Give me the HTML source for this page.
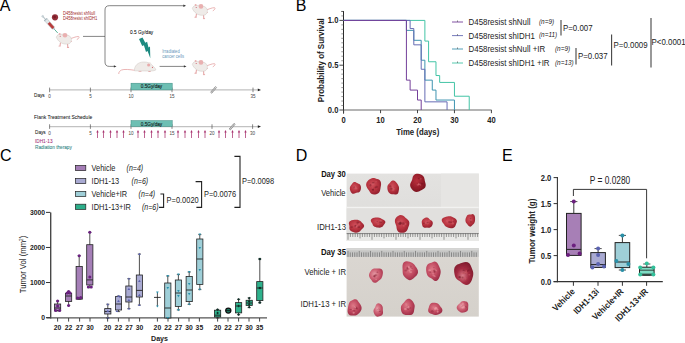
<!DOCTYPE html>
<html><head><meta charset="utf-8"><style>
html,body{margin:0;padding:0;background:#fff;}
body{width:685px;height:343px;overflow:hidden;}
svg{display:block;font-family:"Liberation Sans",sans-serif;}
</style></head><body>
<svg width="685" height="343" viewBox="0 0 685 343">
<rect width="685" height="343" fill="#fff"/>
<text transform="translate(-0.20,10.80)" font-size="16.00" text-anchor="start" fill="#000" >A</text>
<text transform="translate(295.80,11.00)" font-size="16.00" text-anchor="start" fill="#000" >B</text>
<text transform="translate(0.10,160.60)" font-size="16.00" text-anchor="start" fill="#000" >C</text>
<text transform="translate(295.80,160.90)" font-size="16.00" text-anchor="start" fill="#000" >D</text>
<text transform="translate(501.90,160.90)" font-size="16.00" text-anchor="start" fill="#000" >E</text>
<g transform="translate(42,15.5) rotate(48)"><rect x="0" y="-1.2" width="2" height="2.4" fill="#c9d3d8"/><rect x="1.5" y="-0.5" width="4" height="1" fill="#b7c3c8"/><rect x="5" y="-2" width="1" height="4" fill="#9fb0b8"/><rect x="6" y="-1.6" width="11" height="3.2" fill="#dfe6e8" stroke="#9aa8ae" stroke-width="0.4"/><rect x="10" y="-1.4" width="7" height="2.8" fill="#b83a3a"/><rect x="17" y="-0.6" width="2" height="1.2" fill="#9aa8ae"/><line x1="19" y1="0" x2="23.5" y2="0" stroke="#2a9a7a" stroke-width="0.7"/></g>
<circle cx="55.00" cy="17.30" r="3.10" fill="#93303a" stroke="none" stroke-width="1" />
<circle cx="54.60" cy="17.00" r="1.40" fill="#7a1a25" stroke="none" stroke-width="1" />
<text transform="translate(63.00,15.10) scale(0.8333,1)" font-size="4.92" text-anchor="start" fill="#a02a2a" >D458resist shNull</text>
<text transform="translate(63.00,19.90) scale(0.8333,1)" font-size="4.92" text-anchor="start" fill="#a02a2a" >D458resist shIDH1</text>
<g transform="translate(56,32) scale(1.0)"><path d="M15 6.5 C18 5.5 20 4.5 22.5 4.5 C23.6 4.7 23 6.6 20.8 7.6" stroke="#e6a8a8" stroke-width="0.85" fill="none"/><path d="M4.5 10.5 L4 13.8 M11.5 11.5 L11.8 15.3" stroke="#e6a8a8" stroke-width="1.1"/><ellipse cx="3.6" cy="14" rx="1.2" ry="0.6" fill="#e6a8a8"/><ellipse cx="12" cy="15.4" rx="1.2" ry="0.6" fill="#e6a8a8"/><ellipse cx="15" cy="9.3" rx="0.9" ry="0.6" fill="#e6a8a8"/><path d="M0.3 5.2 C1 3 3 1.8 5.5 2.2 C8 1.8 13 2.5 15 5.5 C16 8 15 11 13 11.8 C10 12.5 6 12 4 10 C2.5 9 1 7 0.3 5.2 Z" fill="#efebe8" stroke="#cfc6c2" stroke-width="0.5"/><circle cx="9" cy="3.2" r="2.3" fill="#e9b0b0"/><circle cx="3.6" cy="1.9" r="1.0" fill="#e9b0b0"/><circle cx="4.2" cy="4.2" r="0.5" fill="#c8485a"/></g>
<line x1="83.00" y1="36.40" x2="105.00" y2="36.40" stroke="#333" stroke-width="0.6" />
<path d="M105 36.4 V10 Q105 5.7 109.3 5.7 H184" stroke="#333" stroke-width="0.6" fill="none" />
<path d="M105 36.4 V62 Q105 66.4 109.4 66.4 H114" stroke="#333" stroke-width="0.6" fill="none" />
<path d="M186 5.7 l-2.6 -1.2 v2.4z" fill="#333"/>
<path d="M116.5 66.4 l-2.6 -1.2 v2.4z" fill="#333"/>
<line x1="159.60" y1="66.40" x2="184.00" y2="66.40" stroke="#333" stroke-width="0.6" />
<path d="M186.5 66.4 l-2.6 -1.2 v2.4z" fill="#333"/>
<g transform="translate(192,3.2) scale(1.0)"><path d="M15 6.5 C18 5.5 20 4.5 22.5 4.5 C23.6 4.7 23 6.6 20.8 7.6" stroke="#e6a8a8" stroke-width="0.85" fill="none"/><path d="M4.5 10.5 L4 13.8 M11.5 11.5 L11.8 15.3" stroke="#e6a8a8" stroke-width="1.1"/><ellipse cx="3.6" cy="14" rx="1.2" ry="0.6" fill="#e6a8a8"/><ellipse cx="12" cy="15.4" rx="1.2" ry="0.6" fill="#e6a8a8"/><ellipse cx="15" cy="9.3" rx="0.9" ry="0.6" fill="#e6a8a8"/><path d="M0.3 5.2 C1 3 3 1.8 5.5 2.2 C8 1.8 13 2.5 15 5.5 C16 8 15 11 13 11.8 C10 12.5 6 12 4 10 C2.5 9 1 7 0.3 5.2 Z" fill="#efebe8" stroke="#cfc6c2" stroke-width="0.5"/><circle cx="9" cy="3.2" r="2.3" fill="#e9b0b0"/><circle cx="3.6" cy="1.9" r="1.0" fill="#e9b0b0"/><circle cx="4.2" cy="4.2" r="0.5" fill="#c8485a"/></g>
<g transform="translate(192,59.2) scale(1.0)"><path d="M15 6.5 C18 5.5 20 4.5 22.5 4.5 C23.6 4.7 23 6.6 20.8 7.6" stroke="#e6a8a8" stroke-width="0.85" fill="none"/><path d="M4.5 10.5 L4 13.8 M11.5 11.5 L11.8 15.3" stroke="#e6a8a8" stroke-width="1.1"/><ellipse cx="3.6" cy="14" rx="1.2" ry="0.6" fill="#e6a8a8"/><ellipse cx="12" cy="15.4" rx="1.2" ry="0.6" fill="#e6a8a8"/><ellipse cx="15" cy="9.3" rx="0.9" ry="0.6" fill="#e6a8a8"/><path d="M0.3 5.2 C1 3 3 1.8 5.5 2.2 C8 1.8 13 2.5 15 5.5 C16 8 15 11 13 11.8 C10 12.5 6 12 4 10 C2.5 9 1 7 0.3 5.2 Z" fill="#efebe8" stroke="#cfc6c2" stroke-width="0.5"/><circle cx="9" cy="3.2" r="2.3" fill="#e9b0b0"/><circle cx="3.6" cy="1.9" r="1.0" fill="#e9b0b0"/><circle cx="4.2" cy="4.2" r="0.5" fill="#c8485a"/></g>
<g transform="translate(118,61) scale(1.0)"><path d="M16.8 9.3 C12 8.5 6 8 3.5 9 C1.5 10 0.5 11.5 0.8 13" stroke="#e6a3a3" stroke-width="0.8" fill="none"/><ellipse cx="22" cy="10.2" rx="1.6" ry="0.6" fill="#e6a8a8"/><ellipse cx="31.5" cy="10.4" rx="1.3" ry="0.6" fill="#e6a8a8"/><path d="M16.5 9.8 C16 5 20 1 25.5 1 C30 0.8 33 2.5 35 5 C36.5 6.5 38 8 37.8 9 C36 10.2 32 10 28 10 Z" fill="#efebe8" stroke="#cfc6c2" stroke-width="0.5"/><circle cx="31.5" cy="3.2" r="1.9" fill="#ece6e3"/><circle cx="30.6" cy="3.9" r="1.5" fill="#e8aaaa"/><circle cx="34.4" cy="6.4" r="0.55" fill="#d0606a"/></g>
<path d="M139 39 L142.2 46 L143.9 45.3 L146 52 L147.6 50.9 L150.3 58.2 L150 46.6 L148.5 47.4 L147.1 41.7 L145.3 42.8 L142.5 37.4 Z" stroke="none" stroke-width="1" fill="#1d8a80" />
<text transform="translate(130.00,33.80) scale(0.8333,1)" font-size="5.76" text-anchor="start" fill="#000" stroke="#000" stroke-width="0.05">0.5 Gy/day</text>
<text transform="translate(162.20,52.60) scale(0.8333,1)" font-size="4.98" text-anchor="start" fill="#6495ba" >Irradiated</text>
<text transform="translate(162.20,57.80) scale(0.8333,1)" font-size="4.98" text-anchor="start" fill="#6495ba" >cancer cells</text>
<line x1="49.60" y1="89.90" x2="259.00" y2="89.90" stroke="#c2c2c2" stroke-width="1.3" />
<path d="M261 89.9 l-3.2 -1.4 v2.8z" fill="#222"/>
<line x1="49.60" y1="87.60" x2="49.60" y2="92.20" stroke="#555" stroke-width="0.7" />
<text transform="translate(49.60,97.80) scale(0.8333,1)" font-size="5.52" text-anchor="middle" fill="#444" >0</text>
<line x1="90.40" y1="87.60" x2="90.40" y2="92.20" stroke="#555" stroke-width="0.7" />
<text transform="translate(90.40,97.80) scale(0.8333,1)" font-size="5.52" text-anchor="middle" fill="#444" >5</text>
<line x1="131.00" y1="87.60" x2="131.00" y2="92.20" stroke="#555" stroke-width="0.7" />
<text transform="translate(131.00,97.80) scale(0.8333,1)" font-size="5.52" text-anchor="middle" fill="#444" >10</text>
<line x1="172.00" y1="87.60" x2="172.00" y2="92.20" stroke="#555" stroke-width="0.7" />
<text transform="translate(172.00,97.80) scale(0.8333,1)" font-size="5.52" text-anchor="middle" fill="#444" >15</text>
<line x1="253.00" y1="87.60" x2="253.00" y2="92.20" stroke="#555" stroke-width="0.7" />
<text transform="translate(253.00,97.80) scale(0.8333,1)" font-size="5.52" text-anchor="middle" fill="#444" >35</text>
<rect x="131.00" y="83.20" width="41.20" height="6.70" fill="#6dbfb3" stroke="#3b8a80" stroke-width="0.5" />
<text transform="translate(151.50,88.49) scale(0.8333,1)" font-size="5.64" text-anchor="middle" fill="#112222" stroke="#112222" stroke-width="0.12">0.5Gy/day</text>
<g transform="translate(213.6,89.9) rotate(-50)"><rect x="-3.8" y="-0.75" width="7.6" height="1.5" fill="#fff" stroke="#333" stroke-width="0.35"/><line x1="-3.20" y1="-0.75" x2="-2.70" y2="0.75" stroke="#333" stroke-width="0.3"/><line x1="-2.10" y1="-0.75" x2="-1.60" y2="0.75" stroke="#333" stroke-width="0.3"/><line x1="-1.00" y1="-0.75" x2="-0.50" y2="0.75" stroke="#333" stroke-width="0.3"/><line x1="0.10" y1="-0.75" x2="0.60" y2="0.75" stroke="#333" stroke-width="0.3"/><line x1="1.20" y1="-0.75" x2="1.70" y2="0.75" stroke="#333" stroke-width="0.3"/><line x1="2.30" y1="-0.75" x2="2.80" y2="0.75" stroke="#333" stroke-width="0.3"/></g>
<text transform="translate(34.00,97.14) scale(0.8333,1)" font-size="5.64" text-anchor="start" fill="#111" stroke="#111" stroke-width="0.06">Days</text>
<text transform="translate(34.00,119.06) scale(0.8333,1)" font-size="6.00" text-anchor="start" fill="#111" stroke="#111" stroke-width="0.04">Flank Treatment Schedule</text>
<line x1="49.60" y1="126.60" x2="259.00" y2="126.60" stroke="#c2c2c2" stroke-width="1.3" />
<path d="M261 126.6 l-3.2 -1.4 v2.8z" fill="#222"/>
<line x1="49.60" y1="124.30" x2="49.60" y2="128.90" stroke="#555" stroke-width="0.7" />
<text transform="translate(49.60,134.50) scale(0.8333,1)" font-size="5.52" text-anchor="middle" fill="#444" >0</text>
<line x1="90.40" y1="124.30" x2="90.40" y2="128.90" stroke="#555" stroke-width="0.7" />
<text transform="translate(90.40,134.50) scale(0.8333,1)" font-size="5.52" text-anchor="middle" fill="#444" >5</text>
<line x1="131.00" y1="124.30" x2="131.00" y2="128.90" stroke="#555" stroke-width="0.7" />
<text transform="translate(131.00,134.50) scale(0.8333,1)" font-size="5.52" text-anchor="middle" fill="#444" >10</text>
<line x1="172.00" y1="124.30" x2="172.00" y2="128.90" stroke="#555" stroke-width="0.7" />
<text transform="translate(172.00,134.50) scale(0.8333,1)" font-size="5.52" text-anchor="middle" fill="#444" >15</text>
<line x1="212.00" y1="124.30" x2="212.00" y2="128.90" stroke="#555" stroke-width="0.7" />
<text transform="translate(212.00,134.50) scale(0.8333,1)" font-size="5.52" text-anchor="middle" fill="#444" >20</text>
<line x1="252.60" y1="124.30" x2="252.60" y2="128.90" stroke="#555" stroke-width="0.7" />
<text transform="translate(252.60,134.50) scale(0.8333,1)" font-size="5.52" text-anchor="middle" fill="#444" >30</text>
<rect x="131.00" y="120.60" width="41.20" height="6.00" fill="#6dbfb3" stroke="#3b8a80" stroke-width="0.5" />
<text transform="translate(151.50,125.54) scale(0.8333,1)" font-size="5.64" text-anchor="middle" fill="#112222" stroke="#112222" stroke-width="0.12">0.5Gy/day</text>
<g transform="translate(232.2,126.6) rotate(-50)"><rect x="-3.8" y="-0.75" width="7.6" height="1.5" fill="#fff" stroke="#333" stroke-width="0.35"/><line x1="-3.20" y1="-0.75" x2="-2.70" y2="0.75" stroke="#333" stroke-width="0.3"/><line x1="-2.10" y1="-0.75" x2="-1.60" y2="0.75" stroke="#333" stroke-width="0.3"/><line x1="-1.00" y1="-0.75" x2="-0.50" y2="0.75" stroke="#333" stroke-width="0.3"/><line x1="0.10" y1="-0.75" x2="0.60" y2="0.75" stroke="#333" stroke-width="0.3"/><line x1="1.20" y1="-0.75" x2="1.70" y2="0.75" stroke="#333" stroke-width="0.3"/><line x1="2.30" y1="-0.75" x2="2.80" y2="0.75" stroke="#333" stroke-width="0.3"/></g>
<line x1="97.50" y1="131.60" x2="97.50" y2="138.00" stroke="#a8336f" stroke-width="0.75" />
<path d="M97.5 130.1 l-1.2 2.3 h2.4z" fill="#a8336f"/>
<line x1="103.50" y1="131.60" x2="103.50" y2="138.00" stroke="#a8336f" stroke-width="0.75" />
<path d="M103.5 130.1 l-1.2 2.3 h2.4z" fill="#a8336f"/>
<line x1="110.50" y1="131.60" x2="110.50" y2="138.00" stroke="#a8336f" stroke-width="0.75" />
<path d="M110.5 130.1 l-1.2 2.3 h2.4z" fill="#a8336f"/>
<line x1="117.00" y1="131.60" x2="117.00" y2="138.00" stroke="#a8336f" stroke-width="0.75" />
<path d="M117.0 130.1 l-1.2 2.3 h2.4z" fill="#a8336f"/>
<line x1="123.50" y1="131.60" x2="123.50" y2="138.00" stroke="#a8336f" stroke-width="0.75" />
<path d="M123.5 130.1 l-1.2 2.3 h2.4z" fill="#a8336f"/>
<line x1="138.00" y1="131.60" x2="138.00" y2="138.00" stroke="#a8336f" stroke-width="0.75" />
<path d="M138.0 130.1 l-1.2 2.3 h2.4z" fill="#a8336f"/>
<line x1="144.50" y1="131.60" x2="144.50" y2="138.00" stroke="#a8336f" stroke-width="0.75" />
<path d="M144.5 130.1 l-1.2 2.3 h2.4z" fill="#a8336f"/>
<line x1="151.50" y1="131.60" x2="151.50" y2="138.00" stroke="#a8336f" stroke-width="0.75" />
<path d="M151.5 130.1 l-1.2 2.3 h2.4z" fill="#a8336f"/>
<line x1="158.00" y1="131.60" x2="158.00" y2="138.00" stroke="#a8336f" stroke-width="0.75" />
<path d="M158.0 130.1 l-1.2 2.3 h2.4z" fill="#a8336f"/>
<line x1="165.00" y1="131.60" x2="165.00" y2="138.00" stroke="#a8336f" stroke-width="0.75" />
<path d="M165.0 130.1 l-1.2 2.3 h2.4z" fill="#a8336f"/>
<line x1="178.00" y1="131.60" x2="178.00" y2="138.00" stroke="#a8336f" stroke-width="0.75" />
<path d="M178.0 130.1 l-1.2 2.3 h2.4z" fill="#a8336f"/>
<line x1="185.00" y1="131.60" x2="185.00" y2="138.00" stroke="#a8336f" stroke-width="0.75" />
<path d="M185.0 130.1 l-1.2 2.3 h2.4z" fill="#a8336f"/>
<line x1="191.50" y1="131.60" x2="191.50" y2="138.00" stroke="#a8336f" stroke-width="0.75" />
<path d="M191.5 130.1 l-1.2 2.3 h2.4z" fill="#a8336f"/>
<line x1="198.50" y1="131.60" x2="198.50" y2="138.00" stroke="#a8336f" stroke-width="0.75" />
<path d="M198.5 130.1 l-1.2 2.3 h2.4z" fill="#a8336f"/>
<line x1="205.00" y1="131.60" x2="205.00" y2="138.00" stroke="#a8336f" stroke-width="0.75" />
<path d="M205.0 130.1 l-1.2 2.3 h2.4z" fill="#a8336f"/>
<line x1="219.00" y1="131.60" x2="219.00" y2="138.00" stroke="#a8336f" stroke-width="0.75" />
<path d="M219.0 130.1 l-1.2 2.3 h2.4z" fill="#a8336f"/>
<line x1="225.50" y1="131.60" x2="225.50" y2="138.00" stroke="#a8336f" stroke-width="0.75" />
<path d="M225.5 130.1 l-1.2 2.3 h2.4z" fill="#a8336f"/>
<line x1="232.50" y1="131.60" x2="232.50" y2="138.00" stroke="#a8336f" stroke-width="0.75" />
<path d="M232.5 130.1 l-1.2 2.3 h2.4z" fill="#a8336f"/>
<line x1="239.00" y1="131.60" x2="239.00" y2="138.00" stroke="#a8336f" stroke-width="0.75" />
<path d="M239.0 130.1 l-1.2 2.3 h2.4z" fill="#a8336f"/>
<line x1="245.50" y1="131.60" x2="245.50" y2="138.00" stroke="#a8336f" stroke-width="0.75" />
<path d="M245.5 130.1 l-1.2 2.3 h2.4z" fill="#a8336f"/>
<text transform="translate(35.00,134.34) scale(0.8333,1)" font-size="5.64" text-anchor="start" fill="#111" stroke="#111" stroke-width="0.06">Days</text>
<text transform="translate(35.00,142.94) scale(0.8333,1)" font-size="5.64" text-anchor="start" fill="#a2307a" stroke="#a2307a" stroke-width="0.08">IDH1-13</text>
<text transform="translate(35.00,148.74) scale(0.8333,1)" font-size="5.64" text-anchor="start" fill="#368a88" stroke="#368a88" stroke-width="0.08">Radiation therapy</text>
<line x1="343.50" y1="11.10" x2="343.50" y2="113.60" stroke="#2a2a2a" stroke-width="1" />
<line x1="343.60" y1="110.00" x2="491.60" y2="110.00" stroke="#6a6a6a" stroke-width="1.2" />
<line x1="339.40" y1="110.00" x2="343.60" y2="110.00" stroke="#333" stroke-width="0.9" />
<line x1="341.30" y1="105.52" x2="343.60" y2="105.52" stroke="#555" stroke-width="0.6" />
<line x1="341.30" y1="101.04" x2="343.60" y2="101.04" stroke="#555" stroke-width="0.6" />
<line x1="341.30" y1="96.56" x2="343.60" y2="96.56" stroke="#555" stroke-width="0.6" />
<line x1="341.30" y1="92.08" x2="343.60" y2="92.08" stroke="#555" stroke-width="0.6" />
<line x1="341.30" y1="87.60" x2="343.60" y2="87.60" stroke="#555" stroke-width="0.6" />
<line x1="341.30" y1="83.12" x2="343.60" y2="83.12" stroke="#555" stroke-width="0.6" />
<line x1="341.30" y1="78.64" x2="343.60" y2="78.64" stroke="#555" stroke-width="0.6" />
<line x1="341.30" y1="74.16" x2="343.60" y2="74.16" stroke="#555" stroke-width="0.6" />
<line x1="341.30" y1="69.68" x2="343.60" y2="69.68" stroke="#555" stroke-width="0.6" />
<line x1="339.40" y1="65.20" x2="343.60" y2="65.20" stroke="#333" stroke-width="0.9" />
<line x1="341.30" y1="60.72" x2="343.60" y2="60.72" stroke="#555" stroke-width="0.6" />
<line x1="341.30" y1="56.24" x2="343.60" y2="56.24" stroke="#555" stroke-width="0.6" />
<line x1="341.30" y1="51.76" x2="343.60" y2="51.76" stroke="#555" stroke-width="0.6" />
<line x1="341.30" y1="47.28" x2="343.60" y2="47.28" stroke="#555" stroke-width="0.6" />
<line x1="341.30" y1="42.80" x2="343.60" y2="42.80" stroke="#555" stroke-width="0.6" />
<line x1="341.30" y1="38.32" x2="343.60" y2="38.32" stroke="#555" stroke-width="0.6" />
<line x1="341.30" y1="33.84" x2="343.60" y2="33.84" stroke="#555" stroke-width="0.6" />
<line x1="341.30" y1="29.36" x2="343.60" y2="29.36" stroke="#555" stroke-width="0.6" />
<line x1="341.30" y1="24.88" x2="343.60" y2="24.88" stroke="#555" stroke-width="0.6" />
<line x1="339.40" y1="20.40" x2="343.60" y2="20.40" stroke="#333" stroke-width="0.9" />
<line x1="341.30" y1="15.92" x2="343.60" y2="15.92" stroke="#555" stroke-width="0.6" />
<line x1="341.20" y1="11.44" x2="343.60" y2="11.44" stroke="#333" stroke-width="0.8" />
<line x1="343.60" y1="110.00" x2="343.60" y2="113.20" stroke="#444" stroke-width="1.0" />
<text transform="translate(343.60,122.88) scale(0.9091,1)" font-size="8.36" text-anchor="middle" fill="#222" font-weight="bold" >0</text>
<line x1="380.55" y1="110.00" x2="380.55" y2="113.20" stroke="#444" stroke-width="1.0" />
<text transform="translate(380.55,122.88) scale(0.9091,1)" font-size="8.36" text-anchor="middle" fill="#222" font-weight="bold" >10</text>
<line x1="417.50" y1="110.00" x2="417.50" y2="113.20" stroke="#444" stroke-width="1.0" />
<text transform="translate(417.50,122.88) scale(0.9091,1)" font-size="8.36" text-anchor="middle" fill="#222" font-weight="bold" >20</text>
<line x1="454.45" y1="110.00" x2="454.45" y2="113.20" stroke="#444" stroke-width="1.0" />
<text transform="translate(454.45,122.88) scale(0.9091,1)" font-size="8.36" text-anchor="middle" fill="#222" font-weight="bold" >30</text>
<line x1="491.40" y1="110.00" x2="491.40" y2="113.20" stroke="#444" stroke-width="1.0" />
<text transform="translate(491.40,122.88) scale(0.9091,1)" font-size="8.36" text-anchor="middle" fill="#222" font-weight="bold" >40</text>
<text transform="translate(338.40,112.88) scale(0.9091,1)" font-size="8.36" text-anchor="end" fill="#222" font-weight="bold" >0.0</text>
<text transform="translate(338.40,68.08) scale(0.9091,1)" font-size="8.36" text-anchor="end" fill="#222" font-weight="bold" >0.5</text>
<text transform="translate(338.40,23.28) scale(0.9091,1)" font-size="8.36" text-anchor="end" fill="#222" font-weight="bold" >1.0</text>
<text transform="translate(417.70,134.55) scale(0.9091,1)" font-size="8.58" text-anchor="middle" fill="#222" font-weight="bold" >Time (days)</text>
<text transform="translate(323.62,60.20) rotate(-90) scale(0.9091,1)" font-size="8.75" text-anchor="middle" fill="#222" font-weight="bold" >Probability of Survival</text>
<path d="M343.60 20.40 H424.89 V41.08 H428.59 V61.75 H435.98 V75.54 H439.67 V82.43 H454.45 V96.22 H469.23 V110.00" stroke="#43c4a6" stroke-width="1.0" fill="none" stroke-linejoin="miter"/>
<path d="M343.60 20.40 H406.42 V30.36 H413.81 V40.31 H421.20 V60.22 H424.89 V80.13 H432.28 V90.09 H435.98 V100.04 H454.45 V110.00" stroke="#3f94b0" stroke-width="1.0" fill="none" stroke-linejoin="miter"/>
<path d="M343.60 20.40 H410.11 V28.55 H413.81 V44.84 H421.20 V69.27 H424.89 V101.85 H447.06 V110.00" stroke="#666cb4" stroke-width="1.0" fill="none" stroke-linejoin="miter"/>
<path d="M343.60 20.40 H406.42 V80.13 H410.11 V90.09 H417.50 V100.04 H421.20 V110.00" stroke="#74409a" stroke-width="1.0" fill="none" stroke-linejoin="miter"/>
<line x1="452.00" y1="22.00" x2="463.00" y2="22.00" stroke="#74409a" stroke-width="0.9" />
<line x1="457.50" y1="20.40" x2="457.50" y2="22.00" stroke="#333" stroke-width="0.5" />
<text transform="translate(468.60,25.26) scale(0.8333,1)" font-size="9.48" text-anchor="start" fill="#222" >D458resist shNull</text>
<text transform="translate(539.00,23.64) scale(0.8333,1)" font-size="7.68" text-anchor="start" fill="#222" font-style="italic" >(n=9)</text>
<line x1="452.00" y1="35.60" x2="463.00" y2="35.60" stroke="#666cb4" stroke-width="0.9" />
<line x1="457.50" y1="34.00" x2="457.50" y2="35.60" stroke="#333" stroke-width="0.5" />
<text transform="translate(468.60,38.86) scale(0.8333,1)" font-size="9.48" text-anchor="start" fill="#222" >D458resist shIDH1</text>
<text transform="translate(539.00,37.24) scale(0.8333,1)" font-size="7.68" text-anchor="start" fill="#222" font-style="italic" >(n=11)</text>
<line x1="452.00" y1="49.00" x2="463.00" y2="49.00" stroke="#3f94b0" stroke-width="0.9" />
<line x1="457.50" y1="47.40" x2="457.50" y2="49.00" stroke="#333" stroke-width="0.5" />
<text transform="translate(468.60,52.26) scale(0.8333,1)" font-size="9.48" text-anchor="start" fill="#222" >D458resist shNull +IR</text>
<text transform="translate(555.00,50.64) scale(0.8333,1)" font-size="7.68" text-anchor="start" fill="#222" font-style="italic" >(n=9)</text>
<line x1="452.00" y1="63.00" x2="463.00" y2="63.00" stroke="#43c4a6" stroke-width="0.9" />
<line x1="457.50" y1="61.40" x2="457.50" y2="63.00" stroke="#333" stroke-width="0.5" />
<text transform="translate(468.60,66.26) scale(0.8333,1)" font-size="9.48" text-anchor="start" fill="#222" >D458resist shIDH1 +IR</text>
<text transform="translate(555.00,64.64) scale(0.8333,1)" font-size="7.68" text-anchor="start" fill="#222" font-style="italic" >(n=13)</text>
<line x1="561.00" y1="20.00" x2="561.00" y2="35.60" stroke="#444" stroke-width="1.1" />
<text transform="translate(563.00,31.26) scale(0.8333,1)" font-size="9.48" text-anchor="start" fill="#1a1a1a" >P=0.007</text>
<line x1="576.00" y1="48.00" x2="576.00" y2="64.40" stroke="#444" stroke-width="1.1" />
<text transform="translate(578.00,59.26) scale(0.8333,1)" font-size="9.48" text-anchor="start" fill="#1a1a1a" >P=0.037</text>
<line x1="611.60" y1="34.40" x2="611.60" y2="65.60" stroke="#444" stroke-width="1.1" />
<text transform="translate(613.60,48.26) scale(0.8333,1)" font-size="9.48" text-anchor="start" fill="#1a1a1a" >P=0.0009</text>
<line x1="651.00" y1="18.00" x2="651.00" y2="67.60" stroke="#444" stroke-width="1.1" />
<text transform="translate(651.60,45.26) scale(0.8333,1)" font-size="9.48" text-anchor="start" fill="#1a1a1a" >P&lt;0.0001</text>
<rect x="75.40" y="165.40" width="10.40" height="5.20" fill="#a47db6" stroke="#222" stroke-width="0.7" />
<text transform="translate(91.60,171.05) scale(0.8333,1)" font-size="8.88" text-anchor="start" fill="#222" >Vehicle</text>
<text transform="translate(126.60,170.89) scale(0.8333,1)" font-size="8.40" text-anchor="start" fill="#222" font-style="italic" >(n=4)</text>
<rect x="75.40" y="178.40" width="10.40" height="5.20" fill="#a9aad2" stroke="#222" stroke-width="0.7" />
<text transform="translate(91.60,184.05) scale(0.8333,1)" font-size="8.88" text-anchor="start" fill="#222" >IDH1-13</text>
<text transform="translate(131.60,183.89) scale(0.8333,1)" font-size="8.40" text-anchor="start" fill="#222" font-style="italic" >(n=6)</text>
<rect x="75.40" y="191.40" width="10.40" height="5.20" fill="#9fcfd8" stroke="#222" stroke-width="0.7" />
<text transform="translate(91.60,197.05) scale(0.8333,1)" font-size="8.88" text-anchor="start" fill="#222" >Vehicle+IR</text>
<text transform="translate(138.60,196.89) scale(0.8333,1)" font-size="8.40" text-anchor="start" fill="#222" font-style="italic" >(n=4)</text>
<rect x="75.40" y="204.20" width="10.40" height="5.20" fill="#2cae8a" stroke="#222" stroke-width="0.7" />
<text transform="translate(91.60,209.85) scale(0.8333,1)" font-size="8.88" text-anchor="start" fill="#222" >IDH1-13+IR</text>
<text transform="translate(142.00,209.69) scale(0.8333,1)" font-size="8.40" text-anchor="start" fill="#222" font-style="italic" >(n=6)</text>
<path d="M160.4 194 H163.6 V207.4 H159" stroke="#222" stroke-width="1.1" fill="none" />
<text transform="translate(166.60,203.08) scale(0.8333,1)" font-size="8.94" text-anchor="start" fill="#222" >P=0.0020</text>
<path d="M195.6 181.6 H201.6 V207.4 H196.4" stroke="#222" stroke-width="1.1" fill="none" />
<text transform="translate(204.00,197.08) scale(0.8333,1)" font-size="8.94" text-anchor="start" fill="#222" >P=0.0076</text>
<path d="M234.4 156.4 H240 V207.4 H234.4" stroke="#222" stroke-width="1.1" fill="none" />
<text transform="translate(242.00,184.08) scale(0.8333,1)" font-size="8.94" text-anchor="start" fill="#222" >P=0.0098</text>
<line x1="50.70" y1="212.40" x2="50.70" y2="318.60" stroke="#444" stroke-width="1.35" />
<line x1="46.50" y1="317.90" x2="267.00" y2="317.90" stroke="#555" stroke-width="1.4" />
<line x1="46.00" y1="317.60" x2="50.40" y2="317.60" stroke="#333" stroke-width="1" />
<text transform="translate(45.00,320.17) scale(0.9091,1)" font-size="7.48" text-anchor="end" fill="#222" font-weight="bold" >0</text>
<line x1="46.00" y1="282.53" x2="50.40" y2="282.53" stroke="#333" stroke-width="1" />
<text transform="translate(45.00,285.10) scale(0.9091,1)" font-size="7.48" text-anchor="end" fill="#222" font-weight="bold" >1000</text>
<line x1="46.00" y1="247.46" x2="50.40" y2="247.46" stroke="#333" stroke-width="1" />
<text transform="translate(45.00,250.03) scale(0.9091,1)" font-size="7.48" text-anchor="end" fill="#222" font-weight="bold" >2000</text>
<line x1="46.00" y1="212.39" x2="50.40" y2="212.39" stroke="#333" stroke-width="1" />
<text transform="translate(45.00,214.96) scale(0.9091,1)" font-size="7.48" text-anchor="end" fill="#222" font-weight="bold" >3000</text>
<text transform="translate(159.50,341.09) scale(0.9091,1)" font-size="7.81" text-anchor="middle" fill="#222" font-weight="bold" >Days</text>
<text transform="translate(25.96,264.50) rotate(-90) scale(0.8333,1)" font-size="9.24" text-anchor="middle" fill="#222" >Tumor Vol (mm<tspan font-size="5.6" dy="-3.2">2</tspan><tspan dy="3.2">)</tspan></text>
<line x1="57.60" y1="301.00" x2="57.60" y2="310.80" stroke="#222" stroke-width="0.8" />
<rect x="54.50" y="304.00" width="6.20" height="6.80" fill="#a57fb7" stroke="#222" stroke-width="0.8" />
<line x1="54.50" y1="308.00" x2="60.70" y2="308.00" stroke="#222" stroke-width="0.9" />
<line x1="56.00" y1="301.00" x2="59.20" y2="301.00" stroke="#222" stroke-width="0.7" />
<line x1="56.00" y1="310.80" x2="59.20" y2="310.80" stroke="#222" stroke-width="0.7" />
<circle cx="57.60" cy="301.00" r="1.50" fill="#6b2180" stroke="none" stroke-width="1" />
<circle cx="55.60" cy="310.50" r="1.50" fill="#6b2180" stroke="none" stroke-width="1" />
<circle cx="59.60" cy="310.50" r="1.50" fill="#6b2180" stroke="none" stroke-width="1" />
<circle cx="57.60" cy="306.00" r="1.50" fill="#6b2180" stroke="none" stroke-width="1" />
<line x1="68.60" y1="291.40" x2="68.60" y2="305.40" stroke="#222" stroke-width="0.8" />
<rect x="65.50" y="293.30" width="6.20" height="8.10" fill="#a57fb7" stroke="#222" stroke-width="0.8" />
<line x1="65.50" y1="296.00" x2="71.70" y2="296.00" stroke="#222" stroke-width="0.9" />
<line x1="67.00" y1="291.40" x2="70.20" y2="291.40" stroke="#222" stroke-width="0.7" />
<line x1="67.00" y1="305.40" x2="70.20" y2="305.40" stroke="#222" stroke-width="0.7" />
<circle cx="68.60" cy="291.40" r="1.50" fill="#6b2180" stroke="none" stroke-width="1" />
<circle cx="67.10" cy="293.00" r="1.50" fill="#6b2180" stroke="none" stroke-width="1" />
<circle cx="70.10" cy="293.00" r="1.50" fill="#6b2180" stroke="none" stroke-width="1" />
<circle cx="68.60" cy="305.40" r="1.50" fill="#6b2180" stroke="none" stroke-width="1" />
<line x1="79.20" y1="255.70" x2="79.20" y2="299.20" stroke="#222" stroke-width="0.8" />
<rect x="76.10" y="266.40" width="6.20" height="32.80" fill="#a57fb7" stroke="#222" stroke-width="0.8" />
<line x1="76.10" y1="298.00" x2="82.30" y2="298.00" stroke="#222" stroke-width="0.9" />
<line x1="77.60" y1="255.70" x2="80.80" y2="255.70" stroke="#222" stroke-width="0.7" />
<line x1="77.60" y1="299.20" x2="80.80" y2="299.20" stroke="#222" stroke-width="0.7" />
<circle cx="79.20" cy="255.70" r="1.50" fill="#6b2180" stroke="none" stroke-width="1" />
<circle cx="77.70" cy="298.00" r="1.50" fill="#6b2180" stroke="none" stroke-width="1" />
<circle cx="80.70" cy="297.50" r="1.50" fill="#6b2180" stroke="none" stroke-width="1" />
<line x1="89.80" y1="232.30" x2="89.80" y2="287.70" stroke="#222" stroke-width="0.8" />
<rect x="86.70" y="244.70" width="6.20" height="40.30" fill="#a57fb7" stroke="#222" stroke-width="0.8" />
<line x1="86.70" y1="279.90" x2="92.90" y2="279.90" stroke="#222" stroke-width="0.9" />
<line x1="88.20" y1="232.30" x2="91.40" y2="232.30" stroke="#222" stroke-width="0.7" />
<line x1="88.20" y1="287.70" x2="91.40" y2="287.70" stroke="#222" stroke-width="0.7" />
<circle cx="89.80" cy="232.30" r="1.50" fill="#6b2180" stroke="none" stroke-width="1" />
<circle cx="89.80" cy="277.00" r="1.50" fill="#6b2180" stroke="none" stroke-width="1" />
<circle cx="88.30" cy="287.00" r="1.50" fill="#6b2180" stroke="none" stroke-width="1" />
<circle cx="91.30" cy="287.00" r="1.50" fill="#6b2180" stroke="none" stroke-width="1" />
<line x1="107.80" y1="304.20" x2="107.80" y2="318.00" stroke="#222" stroke-width="0.8" />
<rect x="104.70" y="308.60" width="6.20" height="5.40" fill="#a9aad2" stroke="#222" stroke-width="0.8" />
<line x1="104.70" y1="311.50" x2="110.90" y2="311.50" stroke="#222" stroke-width="0.9" />
<line x1="106.20" y1="304.20" x2="109.40" y2="304.20" stroke="#222" stroke-width="0.7" />
<line x1="106.20" y1="318.00" x2="109.40" y2="318.00" stroke="#222" stroke-width="0.7" />
<path d="M106.50 305.20 l1.3 -2.2 l1.3 2.2z" fill="#5b62ae"/>
<path d="M106.50 319.00 l1.3 -2.2 l1.3 2.2z" fill="#5b62ae"/>
<path d="M106.50 312.00 l1.3 -2.2 l1.3 2.2z" fill="#5b62ae"/>
<line x1="118.50" y1="296.00" x2="118.50" y2="311.60" stroke="#222" stroke-width="0.8" />
<rect x="115.40" y="296.60" width="6.20" height="13.40" fill="#a9aad2" stroke="#222" stroke-width="0.8" />
<line x1="115.40" y1="304.00" x2="121.60" y2="304.00" stroke="#222" stroke-width="0.9" />
<line x1="116.90" y1="296.00" x2="120.10" y2="296.00" stroke="#222" stroke-width="0.7" />
<line x1="116.90" y1="311.60" x2="120.10" y2="311.60" stroke="#222" stroke-width="0.7" />
<path d="M117.20 297.00 l1.3 -2.2 l1.3 2.2z" fill="#5b62ae"/>
<path d="M115.60 312.00 l1.3 -2.2 l1.3 2.2z" fill="#5b62ae"/>
<path d="M118.80 297.60 l1.3 -2.2 l1.3 2.2z" fill="#5b62ae"/>
<path d="M117.20 302.00 l1.3 -2.2 l1.3 2.2z" fill="#5b62ae"/>
<line x1="128.90" y1="278.60" x2="128.90" y2="308.60" stroke="#222" stroke-width="0.8" />
<rect x="125.80" y="286.00" width="6.20" height="16.00" fill="#a9aad2" stroke="#222" stroke-width="0.8" />
<line x1="125.80" y1="297.00" x2="132.00" y2="297.00" stroke="#222" stroke-width="0.9" />
<line x1="127.30" y1="278.60" x2="130.50" y2="278.60" stroke="#222" stroke-width="0.7" />
<line x1="127.30" y1="308.60" x2="130.50" y2="308.60" stroke="#222" stroke-width="0.7" />
<path d="M127.60 279.60 l1.3 -2.2 l1.3 2.2z" fill="#5b62ae"/>
<path d="M127.60 309.60 l1.3 -2.2 l1.3 2.2z" fill="#5b62ae"/>
<path d="M127.60 301.00 l1.3 -2.2 l1.3 2.2z" fill="#5b62ae"/>
<path d="M127.60 290.00 l1.3 -2.2 l1.3 2.2z" fill="#5b62ae"/>
<line x1="139.40" y1="254.00" x2="139.40" y2="305.00" stroke="#222" stroke-width="0.8" />
<rect x="136.30" y="275.00" width="6.20" height="22.00" fill="#a9aad2" stroke="#222" stroke-width="0.8" />
<line x1="136.30" y1="290.40" x2="142.50" y2="290.40" stroke="#222" stroke-width="0.9" />
<line x1="137.80" y1="254.00" x2="141.00" y2="254.00" stroke="#222" stroke-width="0.7" />
<line x1="137.80" y1="305.00" x2="141.00" y2="305.00" stroke="#222" stroke-width="0.7" />
<path d="M138.10 255.00 l1.3 -2.2 l1.3 2.2z" fill="#5b62ae"/>
<path d="M138.10 306.00 l1.3 -2.2 l1.3 2.2z" fill="#5b62ae"/>
<path d="M138.10 282.00 l1.3 -2.2 l1.3 2.2z" fill="#5b62ae"/>
<path d="M138.10 296.00 l1.3 -2.2 l1.3 2.2z" fill="#5b62ae"/>
<line x1="157.40" y1="292.60" x2="157.40" y2="306.40" stroke="#222" stroke-width="0.8" />
<line x1="154.00" y1="297.40" x2="160.80" y2="297.40" stroke="#222" stroke-width="0.9" />
<path d="M156.1 291.6 l1.3 2.2 l1.3 -2.2z" fill="#2a92ad"/><path d="M156.1 305.4 l1.3 2.2 l1.3 -2.2z" fill="#2a92ad"/>
<line x1="167.80" y1="276.00" x2="167.80" y2="318.00" stroke="#222" stroke-width="0.8" />
<rect x="164.70" y="283.00" width="6.20" height="35.00" fill="#9fcfd8" stroke="#222" stroke-width="0.8" />
<line x1="164.70" y1="308.00" x2="170.90" y2="308.00" stroke="#222" stroke-width="0.9" />
<line x1="166.20" y1="276.00" x2="169.40" y2="276.00" stroke="#222" stroke-width="0.7" />
<line x1="166.20" y1="318.00" x2="169.40" y2="318.00" stroke="#222" stroke-width="0.7" />
<path d="M166.50 275.00 l1.3 2.2 l1.3 -2.2z" fill="#2a92ad"/>
<path d="M166.50 287.00 l1.3 2.2 l1.3 -2.2z" fill="#2a92ad"/>
<path d="M166.50 317.00 l1.3 2.2 l1.3 -2.2z" fill="#2a92ad"/>
<line x1="178.40" y1="274.60" x2="178.40" y2="310.00" stroke="#222" stroke-width="0.8" />
<rect x="175.30" y="280.00" width="6.20" height="26.40" fill="#9fcfd8" stroke="#222" stroke-width="0.8" />
<line x1="175.30" y1="293.00" x2="181.50" y2="293.00" stroke="#222" stroke-width="0.9" />
<line x1="176.80" y1="274.60" x2="180.00" y2="274.60" stroke="#222" stroke-width="0.7" />
<line x1="176.80" y1="310.00" x2="180.00" y2="310.00" stroke="#222" stroke-width="0.7" />
<path d="M177.10 273.60 l1.3 2.2 l1.3 -2.2z" fill="#2a92ad"/>
<path d="M177.10 309.00 l1.3 2.2 l1.3 -2.2z" fill="#2a92ad"/>
<path d="M177.10 290.00 l1.3 2.2 l1.3 -2.2z" fill="#2a92ad"/>
<path d="M177.10 295.00 l1.3 2.2 l1.3 -2.2z" fill="#2a92ad"/>
<line x1="189.20" y1="272.00" x2="189.20" y2="304.40" stroke="#222" stroke-width="0.8" />
<rect x="186.10" y="276.40" width="6.20" height="25.20" fill="#9fcfd8" stroke="#222" stroke-width="0.8" />
<line x1="186.10" y1="290.00" x2="192.30" y2="290.00" stroke="#222" stroke-width="0.9" />
<line x1="187.60" y1="272.00" x2="190.80" y2="272.00" stroke="#222" stroke-width="0.7" />
<line x1="187.60" y1="304.40" x2="190.80" y2="304.40" stroke="#222" stroke-width="0.7" />
<path d="M187.90 271.00 l1.3 2.2 l1.3 -2.2z" fill="#2a92ad"/>
<path d="M187.90 303.40 l1.3 2.2 l1.3 -2.2z" fill="#2a92ad"/>
<path d="M187.90 283.00 l1.3 2.2 l1.3 -2.2z" fill="#2a92ad"/>
<path d="M187.90 293.00 l1.3 2.2 l1.3 -2.2z" fill="#2a92ad"/>
<line x1="199.80" y1="234.60" x2="199.80" y2="289.60" stroke="#222" stroke-width="0.8" />
<rect x="196.70" y="239.00" width="6.20" height="45.40" fill="#9fcfd8" stroke="#222" stroke-width="0.8" />
<line x1="196.70" y1="259.00" x2="202.90" y2="259.00" stroke="#222" stroke-width="0.9" />
<line x1="198.20" y1="234.60" x2="201.40" y2="234.60" stroke="#222" stroke-width="0.7" />
<line x1="198.20" y1="289.60" x2="201.40" y2="289.60" stroke="#222" stroke-width="0.7" />
<path d="M198.50 233.60 l1.3 2.2 l1.3 -2.2z" fill="#2a92ad"/>
<path d="M198.50 288.60 l1.3 2.2 l1.3 -2.2z" fill="#2a92ad"/>
<path d="M198.50 247.00 l1.3 2.2 l1.3 -2.2z" fill="#2a92ad"/>
<path d="M198.50 269.00 l1.3 2.2 l1.3 -2.2z" fill="#2a92ad"/>
<line x1="217.60" y1="309.40" x2="217.60" y2="318.00" stroke="#222" stroke-width="0.8" />
<rect x="214.50" y="310.20" width="6.20" height="6.80" fill="#2fb18c" stroke="#222" stroke-width="0.8" />
<line x1="214.50" y1="315.20" x2="220.70" y2="315.20" stroke="#222" stroke-width="0.9" />
<line x1="216.00" y1="309.40" x2="219.20" y2="309.40" stroke="#222" stroke-width="0.7" />
<line x1="216.00" y1="318.00" x2="219.20" y2="318.00" stroke="#222" stroke-width="0.7" />
<path d="M217.60 308.20 l1.3 1.4 l-1.3 1.4 l-1.3 -1.4z" fill="#0d2e26"/>
<path d="M217.60 311.60 l1.3 1.4 l-1.3 1.4 l-1.3 -1.4z" fill="#0d2e26"/>
<ellipse cx="228.3" cy="310.6" rx="2.6" ry="2.5" fill="#1f7a62" stroke="#111" stroke-width="1.2"/><line x1="225.8" y1="310.6" x2="230.8" y2="310.6" stroke="#111" stroke-width="0.8"/>
<line x1="238.60" y1="299.30" x2="238.60" y2="314.70" stroke="#222" stroke-width="0.8" />
<rect x="235.50" y="302.60" width="6.20" height="10.30" fill="#2fb18c" stroke="#222" stroke-width="0.8" />
<line x1="235.50" y1="306.00" x2="241.70" y2="306.00" stroke="#222" stroke-width="0.9" />
<line x1="237.00" y1="299.30" x2="240.20" y2="299.30" stroke="#222" stroke-width="0.7" />
<line x1="237.00" y1="314.70" x2="240.20" y2="314.70" stroke="#222" stroke-width="0.7" />
<path d="M238.60 297.90 l1.3 1.4 l-1.3 1.4 l-1.3 -1.4z" fill="#0d2e26"/>
<path d="M238.60 313.30 l1.3 1.4 l-1.3 1.4 l-1.3 -1.4z" fill="#0d2e26"/>
<path d="M238.60 304.60 l1.3 1.4 l-1.3 1.4 l-1.3 -1.4z" fill="#0d2e26"/>
<line x1="249.20" y1="297.80" x2="249.20" y2="307.60" stroke="#222" stroke-width="0.8" />
<rect x="246.10" y="300.30" width="6.20" height="5.10" fill="#2fb18c" stroke="#222" stroke-width="0.8" />
<line x1="246.10" y1="303.00" x2="252.30" y2="303.00" stroke="#222" stroke-width="0.9" />
<line x1="247.60" y1="297.80" x2="250.80" y2="297.80" stroke="#222" stroke-width="0.7" />
<line x1="247.60" y1="307.60" x2="250.80" y2="307.60" stroke="#222" stroke-width="0.7" />
<path d="M249.20 296.80 l1.3 1.4 l-1.3 1.4 l-1.3 -1.4z" fill="#0d2e26"/>
<path d="M249.20 305.80 l1.3 1.4 l-1.3 1.4 l-1.3 -1.4z" fill="#0d2e26"/>
<path d="M249.20 300.10 l1.3 1.4 l-1.3 1.4 l-1.3 -1.4z" fill="#0d2e26"/>
<path d="M249.20 302.80 l1.3 1.4 l-1.3 1.4 l-1.3 -1.4z" fill="#0d2e26"/>
<line x1="259.80" y1="259.00" x2="259.80" y2="302.60" stroke="#222" stroke-width="0.8" />
<rect x="256.70" y="281.60" width="6.20" height="19.00" fill="#2fb18c" stroke="#222" stroke-width="0.8" />
<line x1="256.70" y1="288.00" x2="262.90" y2="288.00" stroke="#222" stroke-width="0.9" />
<line x1="258.20" y1="259.00" x2="261.40" y2="259.00" stroke="#222" stroke-width="0.7" />
<line x1="258.20" y1="302.60" x2="261.40" y2="302.60" stroke="#222" stroke-width="0.7" />
<rect x="258.70" y="257.90" width="2.20" height="2.20" fill="#0d2e26" stroke="none" stroke-width="1" />
<rect x="258.70" y="301.50" width="2.20" height="2.20" fill="#0d2e26" stroke="none" stroke-width="1" />
<rect x="258.70" y="286.90" width="2.20" height="2.20" fill="#0d2e26" stroke="none" stroke-width="1" />
<line x1="57.60" y1="318.00" x2="57.60" y2="321.60" stroke="#333" stroke-width="0.9" />
<text transform="translate(57.60,329.97) scale(0.9091,1)" font-size="7.48" text-anchor="middle" fill="#222" font-weight="bold" >20</text>
<line x1="68.60" y1="318.00" x2="68.60" y2="321.60" stroke="#333" stroke-width="0.9" />
<text transform="translate(68.60,329.97) scale(0.9091,1)" font-size="7.48" text-anchor="middle" fill="#222" font-weight="bold" >22</text>
<line x1="79.60" y1="318.00" x2="79.60" y2="321.60" stroke="#333" stroke-width="0.9" />
<text transform="translate(79.60,329.97) scale(0.9091,1)" font-size="7.48" text-anchor="middle" fill="#222" font-weight="bold" >27</text>
<line x1="90.00" y1="318.00" x2="90.00" y2="321.60" stroke="#333" stroke-width="0.9" />
<text transform="translate(90.00,329.97) scale(0.9091,1)" font-size="7.48" text-anchor="middle" fill="#222" font-weight="bold" >30</text>
<line x1="107.60" y1="318.00" x2="107.60" y2="321.60" stroke="#333" stroke-width="0.9" />
<text transform="translate(107.60,329.97) scale(0.9091,1)" font-size="7.48" text-anchor="middle" fill="#222" font-weight="bold" >20</text>
<line x1="118.40" y1="318.00" x2="118.40" y2="321.60" stroke="#333" stroke-width="0.9" />
<text transform="translate(118.40,329.97) scale(0.9091,1)" font-size="7.48" text-anchor="middle" fill="#222" font-weight="bold" >22</text>
<line x1="129.00" y1="318.00" x2="129.00" y2="321.60" stroke="#333" stroke-width="0.9" />
<text transform="translate(129.00,329.97) scale(0.9091,1)" font-size="7.48" text-anchor="middle" fill="#222" font-weight="bold" >27</text>
<line x1="139.60" y1="318.00" x2="139.60" y2="321.60" stroke="#333" stroke-width="0.9" />
<text transform="translate(139.60,329.97) scale(0.9091,1)" font-size="7.48" text-anchor="middle" fill="#222" font-weight="bold" >30</text>
<line x1="157.40" y1="318.00" x2="157.40" y2="321.60" stroke="#333" stroke-width="0.9" />
<text transform="translate(157.40,329.97) scale(0.9091,1)" font-size="7.48" text-anchor="middle" fill="#222" font-weight="bold" >20</text>
<line x1="168.00" y1="318.00" x2="168.00" y2="321.60" stroke="#333" stroke-width="0.9" />
<text transform="translate(168.00,329.97) scale(0.9091,1)" font-size="7.48" text-anchor="middle" fill="#222" font-weight="bold" >22</text>
<line x1="178.60" y1="318.00" x2="178.60" y2="321.60" stroke="#333" stroke-width="0.9" />
<text transform="translate(178.60,329.97) scale(0.9091,1)" font-size="7.48" text-anchor="middle" fill="#222" font-weight="bold" >27</text>
<line x1="189.00" y1="318.00" x2="189.00" y2="321.60" stroke="#333" stroke-width="0.9" />
<text transform="translate(189.00,329.97) scale(0.9091,1)" font-size="7.48" text-anchor="middle" fill="#222" font-weight="bold" >30</text>
<line x1="199.40" y1="318.00" x2="199.40" y2="321.60" stroke="#333" stroke-width="0.9" />
<text transform="translate(199.40,329.97) scale(0.9091,1)" font-size="7.48" text-anchor="middle" fill="#222" font-weight="bold" >35</text>
<line x1="217.60" y1="318.00" x2="217.60" y2="321.60" stroke="#333" stroke-width="0.9" />
<text transform="translate(217.60,329.97) scale(0.9091,1)" font-size="7.48" text-anchor="middle" fill="#222" font-weight="bold" >20</text>
<line x1="228.00" y1="318.00" x2="228.00" y2="321.60" stroke="#333" stroke-width="0.9" />
<text transform="translate(228.00,329.97) scale(0.9091,1)" font-size="7.48" text-anchor="middle" fill="#222" font-weight="bold" >22</text>
<line x1="238.60" y1="318.00" x2="238.60" y2="321.60" stroke="#333" stroke-width="0.9" />
<text transform="translate(238.60,329.97) scale(0.9091,1)" font-size="7.48" text-anchor="middle" fill="#222" font-weight="bold" >27</text>
<line x1="249.00" y1="318.00" x2="249.00" y2="321.60" stroke="#333" stroke-width="0.9" />
<text transform="translate(249.00,329.97) scale(0.9091,1)" font-size="7.48" text-anchor="middle" fill="#222" font-weight="bold" >30</text>
<line x1="259.60" y1="318.00" x2="259.60" y2="321.60" stroke="#333" stroke-width="0.9" />
<text transform="translate(259.60,329.97) scale(0.9091,1)" font-size="7.48" text-anchor="middle" fill="#222" font-weight="bold" >35</text>
<text transform="translate(345.60,176.88) scale(0.9091,1)" font-size="8.36" text-anchor="end" fill="#111" font-weight="bold" >Day 30</text>
<text transform="translate(345.60,195.74) scale(0.8333,1)" font-size="9.12" text-anchor="end" fill="#222" >Vehicle</text>
<text transform="translate(346.00,229.52) scale(0.8333,1)" font-size="9.36" text-anchor="end" fill="#222" >IDH1-13</text>
<text transform="translate(346.00,254.75) scale(0.9091,1)" font-size="8.58" text-anchor="end" fill="#111" font-weight="bold" >Day 35</text>
<text transform="translate(346.00,275.00) scale(0.8333,1)" font-size="9.30" text-anchor="end" fill="#222" >Vehicle + IR</text>
<text transform="translate(346.00,306.50) scale(0.8333,1)" font-size="9.30" text-anchor="end" fill="#222" >IDH1-13 + IR</text>
<defs><radialGradient id="tr1" cx="0.42" cy="0.4" r="0.62"><stop offset="0" stop-color="#d0505c"/><stop offset="0.6" stop-color="#b6323e"/><stop offset="1" stop-color="#94222f"/></radialGradient><radialGradient id="tr2" cx="0.42" cy="0.4" r="0.62"><stop offset="0" stop-color="#b8303c"/><stop offset="0.65" stop-color="#951d2a"/><stop offset="1" stop-color="#7a1420"/></radialGradient><radialGradient id="tp1" cx="0.4" cy="0.4" r="0.62"><stop offset="0" stop-color="#e59aa5"/><stop offset="0.55" stop-color="#cc5f72"/><stop offset="1" stop-color="#ad3a52"/></radialGradient><radialGradient id="tp2" cx="0.4" cy="0.4" r="0.62"><stop offset="0" stop-color="#de7a88"/><stop offset="0.6" stop-color="#c04a60"/><stop offset="1" stop-color="#a03049"/></radialGradient><radialGradient id="tp3" cx="0.45" cy="0.6" r="0.62"><stop offset="0" stop-color="#d97d8a"/><stop offset="0.5" stop-color="#a52c42"/><stop offset="1" stop-color="#7e1a2c"/></radialGradient><linearGradient id="pg1" x1="0" y1="0" x2="0" y2="1"><stop offset="0" stop-color="#e3e2e0"/><stop offset="1" stop-color="#dcdbd9"/></linearGradient><linearGradient id="pg2" x1="0" y1="0" x2="0" y2="1"><stop offset="0" stop-color="#dbd7d2"/><stop offset="1" stop-color="#d5d1cb"/></linearGradient></defs>
<rect x="346.60" y="173.60" width="132.20" height="67.40" fill="url(#pg1)" stroke="none" stroke-width="1" />
<rect x="441.00" y="173.60" width="37.80" height="33.50" fill="#e6e5e3" stroke="none" stroke-width="1" />
<rect x="346.60" y="206.80" width="132.20" height="1.60" fill="#f2f2f1" stroke="none" stroke-width="1" />
<rect x="346.60" y="208.40" width="132.20" height="24.80" fill="#e1e0de" stroke="none" stroke-width="1" />
<rect x="346.60" y="233.20" width="132.20" height="7.80" fill="#e9e9e7" stroke="none" stroke-width="1" />
<line x1="346.60" y1="233.60" x2="478.80" y2="233.60" stroke="#6a6a6a" stroke-width="0.8" />
<line x1="348.00" y1="233.60" x2="348.00" y2="239.80" stroke="#2a2a2a" stroke-width="0.45" />
<line x1="350.40" y1="233.60" x2="350.40" y2="237.00" stroke="#2a2a2a" stroke-width="0.45" />
<line x1="352.80" y1="233.60" x2="352.80" y2="237.00" stroke="#2a2a2a" stroke-width="0.45" />
<line x1="355.20" y1="233.60" x2="355.20" y2="237.00" stroke="#2a2a2a" stroke-width="0.45" />
<line x1="357.60" y1="233.60" x2="357.60" y2="237.00" stroke="#2a2a2a" stroke-width="0.45" />
<line x1="360.00" y1="233.60" x2="360.00" y2="238.40" stroke="#2a2a2a" stroke-width="0.45" />
<line x1="362.40" y1="233.60" x2="362.40" y2="237.00" stroke="#2a2a2a" stroke-width="0.45" />
<line x1="364.80" y1="233.60" x2="364.80" y2="237.00" stroke="#2a2a2a" stroke-width="0.45" />
<line x1="367.20" y1="233.60" x2="367.20" y2="237.00" stroke="#2a2a2a" stroke-width="0.45" />
<line x1="369.60" y1="233.60" x2="369.60" y2="237.00" stroke="#2a2a2a" stroke-width="0.45" />
<line x1="372.00" y1="233.60" x2="372.00" y2="239.80" stroke="#2a2a2a" stroke-width="0.45" />
<line x1="374.40" y1="233.60" x2="374.40" y2="237.00" stroke="#2a2a2a" stroke-width="0.45" />
<line x1="376.80" y1="233.60" x2="376.80" y2="237.00" stroke="#2a2a2a" stroke-width="0.45" />
<line x1="379.20" y1="233.60" x2="379.20" y2="237.00" stroke="#2a2a2a" stroke-width="0.45" />
<line x1="381.60" y1="233.60" x2="381.60" y2="237.00" stroke="#2a2a2a" stroke-width="0.45" />
<line x1="384.00" y1="233.60" x2="384.00" y2="238.40" stroke="#2a2a2a" stroke-width="0.45" />
<line x1="386.40" y1="233.60" x2="386.40" y2="237.00" stroke="#2a2a2a" stroke-width="0.45" />
<line x1="388.80" y1="233.60" x2="388.80" y2="237.00" stroke="#2a2a2a" stroke-width="0.45" />
<line x1="391.20" y1="233.60" x2="391.20" y2="237.00" stroke="#2a2a2a" stroke-width="0.45" />
<line x1="393.60" y1="233.60" x2="393.60" y2="237.00" stroke="#2a2a2a" stroke-width="0.45" />
<line x1="396.00" y1="233.60" x2="396.00" y2="239.80" stroke="#2a2a2a" stroke-width="0.45" />
<line x1="398.40" y1="233.60" x2="398.40" y2="237.00" stroke="#2a2a2a" stroke-width="0.45" />
<line x1="400.80" y1="233.60" x2="400.80" y2="237.00" stroke="#2a2a2a" stroke-width="0.45" />
<line x1="403.20" y1="233.60" x2="403.20" y2="237.00" stroke="#2a2a2a" stroke-width="0.45" />
<line x1="405.60" y1="233.60" x2="405.60" y2="237.00" stroke="#2a2a2a" stroke-width="0.45" />
<line x1="408.00" y1="233.60" x2="408.00" y2="238.40" stroke="#2a2a2a" stroke-width="0.45" />
<line x1="410.40" y1="233.60" x2="410.40" y2="237.00" stroke="#2a2a2a" stroke-width="0.45" />
<line x1="412.80" y1="233.60" x2="412.80" y2="237.00" stroke="#2a2a2a" stroke-width="0.45" />
<line x1="415.20" y1="233.60" x2="415.20" y2="237.00" stroke="#2a2a2a" stroke-width="0.45" />
<line x1="417.60" y1="233.60" x2="417.60" y2="237.00" stroke="#2a2a2a" stroke-width="0.45" />
<line x1="420.00" y1="233.60" x2="420.00" y2="239.80" stroke="#2a2a2a" stroke-width="0.45" />
<line x1="422.40" y1="233.60" x2="422.40" y2="237.00" stroke="#2a2a2a" stroke-width="0.45" />
<line x1="424.80" y1="233.60" x2="424.80" y2="237.00" stroke="#2a2a2a" stroke-width="0.45" />
<line x1="427.20" y1="233.60" x2="427.20" y2="237.00" stroke="#2a2a2a" stroke-width="0.45" />
<line x1="429.60" y1="233.60" x2="429.60" y2="237.00" stroke="#2a2a2a" stroke-width="0.45" />
<line x1="432.00" y1="233.60" x2="432.00" y2="238.40" stroke="#2a2a2a" stroke-width="0.45" />
<line x1="434.40" y1="233.60" x2="434.40" y2="237.00" stroke="#2a2a2a" stroke-width="0.45" />
<line x1="436.80" y1="233.60" x2="436.80" y2="237.00" stroke="#2a2a2a" stroke-width="0.45" />
<line x1="439.20" y1="233.60" x2="439.20" y2="237.00" stroke="#2a2a2a" stroke-width="0.45" />
<line x1="441.60" y1="233.60" x2="441.60" y2="237.00" stroke="#2a2a2a" stroke-width="0.45" />
<line x1="444.00" y1="233.60" x2="444.00" y2="239.80" stroke="#2a2a2a" stroke-width="0.45" />
<line x1="446.40" y1="233.60" x2="446.40" y2="237.00" stroke="#2a2a2a" stroke-width="0.45" />
<line x1="448.80" y1="233.60" x2="448.80" y2="237.00" stroke="#2a2a2a" stroke-width="0.45" />
<line x1="451.20" y1="233.60" x2="451.20" y2="237.00" stroke="#2a2a2a" stroke-width="0.45" />
<line x1="453.60" y1="233.60" x2="453.60" y2="237.00" stroke="#2a2a2a" stroke-width="0.45" />
<line x1="456.00" y1="233.60" x2="456.00" y2="238.40" stroke="#2a2a2a" stroke-width="0.45" />
<line x1="458.40" y1="233.60" x2="458.40" y2="237.00" stroke="#2a2a2a" stroke-width="0.45" />
<line x1="460.80" y1="233.60" x2="460.80" y2="237.00" stroke="#2a2a2a" stroke-width="0.45" />
<line x1="463.20" y1="233.60" x2="463.20" y2="237.00" stroke="#2a2a2a" stroke-width="0.45" />
<line x1="465.60" y1="233.60" x2="465.60" y2="237.00" stroke="#2a2a2a" stroke-width="0.45" />
<line x1="468.00" y1="233.60" x2="468.00" y2="239.80" stroke="#2a2a2a" stroke-width="0.45" />
<line x1="470.40" y1="233.60" x2="470.40" y2="237.00" stroke="#2a2a2a" stroke-width="0.45" />
<line x1="472.80" y1="233.60" x2="472.80" y2="237.00" stroke="#2a2a2a" stroke-width="0.45" />
<line x1="475.20" y1="233.60" x2="475.20" y2="237.00" stroke="#2a2a2a" stroke-width="0.45" />
<line x1="477.60" y1="233.60" x2="477.60" y2="237.00" stroke="#2a2a2a" stroke-width="0.45" />
<rect x="346.60" y="248.30" width="132.20" height="68.30" fill="url(#pg2)" stroke="none" stroke-width="1" />
<rect x="346.60" y="248.30" width="132.20" height="8.60" fill="#c6c6c5" stroke="none" stroke-width="1" />
<rect x="346.60" y="248.30" width="132.20" height="2.00" fill="#d6d6d5" stroke="none" stroke-width="1" />
<line x1="348.00" y1="250.90" x2="348.00" y2="256.90" stroke="#4a4a4a" stroke-width="0.5" />
<line x1="350.25" y1="252.40" x2="350.25" y2="256.90" stroke="#4a4a4a" stroke-width="0.5" />
<line x1="352.50" y1="252.40" x2="352.50" y2="256.90" stroke="#4a4a4a" stroke-width="0.5" />
<line x1="354.75" y1="252.40" x2="354.75" y2="256.90" stroke="#4a4a4a" stroke-width="0.5" />
<line x1="357.00" y1="252.40" x2="357.00" y2="256.90" stroke="#4a4a4a" stroke-width="0.5" />
<line x1="359.25" y1="250.90" x2="359.25" y2="256.90" stroke="#4a4a4a" stroke-width="0.5" />
<line x1="361.50" y1="252.40" x2="361.50" y2="256.90" stroke="#4a4a4a" stroke-width="0.5" />
<line x1="363.75" y1="252.40" x2="363.75" y2="256.90" stroke="#4a4a4a" stroke-width="0.5" />
<line x1="366.00" y1="252.40" x2="366.00" y2="256.90" stroke="#4a4a4a" stroke-width="0.5" />
<line x1="368.25" y1="252.40" x2="368.25" y2="256.90" stroke="#4a4a4a" stroke-width="0.5" />
<line x1="370.50" y1="250.90" x2="370.50" y2="256.90" stroke="#4a4a4a" stroke-width="0.5" />
<line x1="372.75" y1="252.40" x2="372.75" y2="256.90" stroke="#4a4a4a" stroke-width="0.5" />
<line x1="375.00" y1="252.40" x2="375.00" y2="256.90" stroke="#4a4a4a" stroke-width="0.5" />
<line x1="377.25" y1="252.40" x2="377.25" y2="256.90" stroke="#4a4a4a" stroke-width="0.5" />
<line x1="379.50" y1="252.40" x2="379.50" y2="256.90" stroke="#4a4a4a" stroke-width="0.5" />
<line x1="381.75" y1="250.90" x2="381.75" y2="256.90" stroke="#4a4a4a" stroke-width="0.5" />
<line x1="384.00" y1="252.40" x2="384.00" y2="256.90" stroke="#4a4a4a" stroke-width="0.5" />
<line x1="386.25" y1="252.40" x2="386.25" y2="256.90" stroke="#4a4a4a" stroke-width="0.5" />
<line x1="388.50" y1="252.40" x2="388.50" y2="256.90" stroke="#4a4a4a" stroke-width="0.5" />
<line x1="390.75" y1="252.40" x2="390.75" y2="256.90" stroke="#4a4a4a" stroke-width="0.5" />
<line x1="393.00" y1="250.90" x2="393.00" y2="256.90" stroke="#4a4a4a" stroke-width="0.5" />
<line x1="395.25" y1="252.40" x2="395.25" y2="256.90" stroke="#4a4a4a" stroke-width="0.5" />
<line x1="397.50" y1="252.40" x2="397.50" y2="256.90" stroke="#4a4a4a" stroke-width="0.5" />
<line x1="399.75" y1="252.40" x2="399.75" y2="256.90" stroke="#4a4a4a" stroke-width="0.5" />
<line x1="402.00" y1="252.40" x2="402.00" y2="256.90" stroke="#4a4a4a" stroke-width="0.5" />
<line x1="404.25" y1="250.90" x2="404.25" y2="256.90" stroke="#4a4a4a" stroke-width="0.5" />
<line x1="406.50" y1="252.40" x2="406.50" y2="256.90" stroke="#4a4a4a" stroke-width="0.5" />
<line x1="408.75" y1="252.40" x2="408.75" y2="256.90" stroke="#4a4a4a" stroke-width="0.5" />
<line x1="411.00" y1="252.40" x2="411.00" y2="256.90" stroke="#4a4a4a" stroke-width="0.5" />
<line x1="413.25" y1="252.40" x2="413.25" y2="256.90" stroke="#4a4a4a" stroke-width="0.5" />
<line x1="415.50" y1="250.90" x2="415.50" y2="256.90" stroke="#4a4a4a" stroke-width="0.5" />
<line x1="417.75" y1="252.40" x2="417.75" y2="256.90" stroke="#4a4a4a" stroke-width="0.5" />
<line x1="420.00" y1="252.40" x2="420.00" y2="256.90" stroke="#4a4a4a" stroke-width="0.5" />
<line x1="422.25" y1="252.40" x2="422.25" y2="256.90" stroke="#4a4a4a" stroke-width="0.5" />
<line x1="424.50" y1="252.40" x2="424.50" y2="256.90" stroke="#4a4a4a" stroke-width="0.5" />
<line x1="426.75" y1="250.90" x2="426.75" y2="256.90" stroke="#4a4a4a" stroke-width="0.5" />
<line x1="429.00" y1="252.40" x2="429.00" y2="256.90" stroke="#4a4a4a" stroke-width="0.5" />
<line x1="431.25" y1="252.40" x2="431.25" y2="256.90" stroke="#4a4a4a" stroke-width="0.5" />
<line x1="433.50" y1="252.40" x2="433.50" y2="256.90" stroke="#4a4a4a" stroke-width="0.5" />
<line x1="435.75" y1="252.40" x2="435.75" y2="256.90" stroke="#4a4a4a" stroke-width="0.5" />
<line x1="438.00" y1="250.90" x2="438.00" y2="256.90" stroke="#4a4a4a" stroke-width="0.5" />
<line x1="440.25" y1="252.40" x2="440.25" y2="256.90" stroke="#4a4a4a" stroke-width="0.5" />
<line x1="442.50" y1="252.40" x2="442.50" y2="256.90" stroke="#4a4a4a" stroke-width="0.5" />
<line x1="444.75" y1="252.40" x2="444.75" y2="256.90" stroke="#4a4a4a" stroke-width="0.5" />
<line x1="447.00" y1="252.40" x2="447.00" y2="256.90" stroke="#4a4a4a" stroke-width="0.5" />
<line x1="449.25" y1="250.90" x2="449.25" y2="256.90" stroke="#4a4a4a" stroke-width="0.5" />
<line x1="451.50" y1="252.40" x2="451.50" y2="256.90" stroke="#4a4a4a" stroke-width="0.5" />
<line x1="453.75" y1="252.40" x2="453.75" y2="256.90" stroke="#4a4a4a" stroke-width="0.5" />
<line x1="456.00" y1="252.40" x2="456.00" y2="256.90" stroke="#4a4a4a" stroke-width="0.5" />
<line x1="458.25" y1="252.40" x2="458.25" y2="256.90" stroke="#4a4a4a" stroke-width="0.5" />
<line x1="460.50" y1="250.90" x2="460.50" y2="256.90" stroke="#4a4a4a" stroke-width="0.5" />
<line x1="462.75" y1="252.40" x2="462.75" y2="256.90" stroke="#4a4a4a" stroke-width="0.5" />
<line x1="465.00" y1="252.40" x2="465.00" y2="256.90" stroke="#4a4a4a" stroke-width="0.5" />
<line x1="467.25" y1="252.40" x2="467.25" y2="256.90" stroke="#4a4a4a" stroke-width="0.5" />
<line x1="469.50" y1="252.40" x2="469.50" y2="256.90" stroke="#4a4a4a" stroke-width="0.5" />
<line x1="471.75" y1="250.90" x2="471.75" y2="256.90" stroke="#4a4a4a" stroke-width="0.5" />
<line x1="474.00" y1="252.40" x2="474.00" y2="256.90" stroke="#4a4a4a" stroke-width="0.5" />
<line x1="476.25" y1="252.40" x2="476.25" y2="256.90" stroke="#4a4a4a" stroke-width="0.5" />
<defs><filter id="soft" x="-20%" y="-20%" width="140%" height="140%"><feGaussianBlur stdDeviation="0.35"/></filter></defs>
<g filter="url(#soft)"><path d="M360.97 188.00 L360.83 189.13 L360.54 190.20 L360.07 191.18 L359.37 191.94 L358.51 192.41 L357.60 192.60 L356.78 192.68 L356.04 192.86 L355.30 193.21 L354.44 193.60 L353.47 193.81 L352.48 193.63 L351.63 193.04 L350.98 192.18 L350.51 191.19 L350.14 190.17 L349.89 189.10 L349.83 188.00 L350.02 186.93 L350.46 185.97 L351.02 185.15 L351.59 184.40 L352.14 183.65 L352.75 182.90 L353.50 182.28 L354.38 181.98 L355.30 182.06 L356.15 182.44 L356.91 182.89 L357.66 183.29 L358.47 183.64 L359.33 184.10 L360.11 184.79 L360.68 185.74 L360.95 186.85Z" fill="url(#tr1)"/><ellipse cx="356.80" cy="188.85" rx="0.66" ry="0.91" fill="#d2606a" opacity="0.55"/><ellipse cx="356.62" cy="188.36" rx="0.69" ry="0.84" fill="#d2606a" opacity="0.55"/><ellipse cx="355.48" cy="187.60" rx="1.23" ry="1.26" fill="#d2606a" opacity="0.55"/><ellipse cx="354.20" cy="187.34" rx="0.65" ry="1.19" fill="#5e0f1a" opacity="0.35"/><ellipse cx="355.19" cy="188.50" rx="0.91" ry="1.15" fill="#d2606a" opacity="0.55"/></g>
<g filter="url(#soft)"><path d="M380.87 186.00 L380.60 187.51 L380.35 188.99 L380.03 190.50 L379.47 191.94 L378.61 193.11 L377.51 193.86 L376.32 194.23 L375.14 194.38 L374.00 194.43 L372.87 194.32 L371.77 193.92 L370.80 193.17 L370.01 192.15 L369.34 191.06 L368.63 190.01 L367.80 188.92 L366.93 187.61 L366.29 186.00 L366.14 184.21 L366.58 182.50 L367.48 181.13 L368.58 180.11 L369.69 179.35 L370.75 178.72 L371.82 178.25 L372.91 178.03 L374.00 178.10 L375.04 178.37 L376.06 178.66 L377.16 178.93 L378.35 179.29 L379.54 179.99 L380.49 181.15 L381.01 182.70 L381.08 184.38Z" fill="url(#tr1)"/><ellipse cx="372.45" cy="188.08" rx="0.66" ry="0.66" fill="#d2606a" opacity="0.55"/><ellipse cx="373.26" cy="183.96" rx="1.19" ry="0.86" fill="#d2606a" opacity="0.55"/><ellipse cx="373.01" cy="189.99" rx="0.84" ry="0.96" fill="#5e0f1a" opacity="0.35"/><ellipse cx="370.47" cy="185.28" rx="0.89" ry="1.28" fill="#5e0f1a" opacity="0.35"/><ellipse cx="375.26" cy="187.49" rx="0.75" ry="0.89" fill="#5e0f1a" opacity="0.35"/><ellipse cx="376.64" cy="186.86" rx="1.17" ry="1.20" fill="#5e0f1a" opacity="0.35"/><ellipse cx="372.90" cy="189.38" rx="1.18" ry="0.86" fill="#5e0f1a" opacity="0.35"/><ellipse cx="376.06" cy="181.78" rx="1.26" ry="0.55" fill="#d2606a" opacity="0.55"/><ellipse cx="373.20" cy="182.74" rx="1.42" ry="0.73" fill="#5e0f1a" opacity="0.35"/></g>
<g filter="url(#soft)"><path d="M398.16 185.19 L398.70 186.33 L399.00 187.51 L399.05 188.66 L398.92 189.74 L398.73 190.75 L398.54 191.78 L398.26 192.82 L397.75 193.74 L396.97 194.35 L395.98 194.57 L394.94 194.50 L393.95 194.34 L392.96 194.25 L391.89 194.18 L390.73 193.94 L389.58 193.33 L388.61 192.34 L387.95 191.09 L387.58 189.77 L387.40 188.51 L387.36 187.31 L387.46 186.20 L387.79 185.21 L388.33 184.41 L388.97 183.79 L389.59 183.22 L390.15 182.54 L390.73 181.70 L391.50 180.89 L392.52 180.39 L393.71 180.44 L394.89 181.04 L395.90 181.99 L396.75 183.05 L397.50 184.12Z" fill="url(#tr1)"/><ellipse cx="392.75" cy="188.17" rx="0.66" ry="1.11" fill="#d2606a" opacity="0.55"/><ellipse cx="393.87" cy="188.78" rx="1.47" ry="0.56" fill="#d2606a" opacity="0.55"/><ellipse cx="391.55" cy="188.75" rx="1.42" ry="1.19" fill="#5e0f1a" opacity="0.35"/><ellipse cx="393.05" cy="189.77" rx="1.48" ry="1.27" fill="#d2606a" opacity="0.55"/><ellipse cx="393.65" cy="188.62" rx="0.83" ry="0.89" fill="#d2606a" opacity="0.55"/><ellipse cx="392.55" cy="187.40" rx="1.02" ry="0.80" fill="#d2606a" opacity="0.55"/><ellipse cx="390.37" cy="186.34" rx="1.12" ry="0.99" fill="#5e0f1a" opacity="0.35"/></g>
<g filter="url(#soft)"><path d="M425.41 183.00 L425.71 184.44 L425.67 185.97 L425.14 187.38 L424.16 188.49 L422.97 189.29 L421.77 189.95 L420.61 190.62 L419.38 191.32 L418.00 191.87 L416.50 192.01 L415.03 191.66 L413.71 190.89 L412.56 189.89 L411.55 188.75 L410.72 187.47 L410.20 186.02 L410.15 184.47 L410.55 183.00 L411.20 181.73 L411.81 180.61 L412.21 179.45 L412.49 178.09 L412.92 176.57 L413.74 175.16 L414.97 174.14 L416.45 173.66 L418.00 173.65 L419.50 173.94 L420.93 174.44 L422.25 175.19 L423.34 176.24 L424.09 177.57 L424.51 179.01 L424.76 180.39 L425.04 181.68Z" fill="url(#tr2)"/><ellipse cx="418.78" cy="178.62" rx="0.99" ry="0.82" fill="#5e0f1a" opacity="0.35"/><ellipse cx="420.42" cy="184.96" rx="0.67" ry="0.67" fill="#d2606a" opacity="0.55"/><ellipse cx="418.86" cy="184.48" rx="0.60" ry="0.62" fill="#d2606a" opacity="0.55"/><ellipse cx="419.40" cy="184.10" rx="1.47" ry="0.99" fill="#d2606a" opacity="0.55"/><ellipse cx="418.72" cy="184.03" rx="0.96" ry="0.60" fill="#d2606a" opacity="0.55"/><ellipse cx="420.77" cy="178.87" rx="1.08" ry="0.57" fill="#d2606a" opacity="0.55"/><ellipse cx="419.32" cy="184.05" rx="1.43" ry="0.63" fill="#d2606a" opacity="0.55"/><ellipse cx="422.52" cy="183.70" rx="0.75" ry="0.93" fill="#5e0f1a" opacity="0.35"/><ellipse cx="420.50" cy="183.46" rx="1.46" ry="1.06" fill="#5e0f1a" opacity="0.35"/><ellipse cx="417.88" cy="184.87" rx="1.37" ry="0.93" fill="#d2606a" opacity="0.55"/></g>
<g filter="url(#soft)"><path d="M364.14 226.00 L363.84 227.04 L363.14 227.95 L362.32 228.73 L361.56 229.50 L360.85 230.34 L360.04 231.25 L358.94 232.05 L357.54 232.57 L356.00 232.70 L354.47 232.49 L353.06 232.06 L351.77 231.50 L350.65 230.78 L349.82 229.89 L349.38 228.87 L349.31 227.83 L349.41 226.87 L349.39 226.00 L349.17 225.10 L348.88 224.06 L348.83 222.90 L349.29 221.78 L350.28 220.89 L351.62 220.31 L353.09 219.99 L354.55 219.82 L356.00 219.75 L357.45 219.85 L358.81 220.21 L359.99 220.82 L360.93 221.59 L361.74 222.39 L362.52 223.18 L363.30 224.01 L363.92 224.95Z" fill="url(#tr1)"/><ellipse cx="357.77" cy="222.71" rx="1.41" ry="1.15" fill="#5e0f1a" opacity="0.35"/><ellipse cx="355.93" cy="225.19" rx="0.96" ry="0.52" fill="#5e0f1a" opacity="0.35"/><ellipse cx="357.32" cy="226.18" rx="1.29" ry="1.27" fill="#d2606a" opacity="0.55"/><ellipse cx="351.75" cy="227.10" rx="1.56" ry="0.79" fill="#5e0f1a" opacity="0.35"/><ellipse cx="356.20" cy="226.80" rx="0.80" ry="1.00" fill="#d2606a" opacity="0.55"/><ellipse cx="359.26" cy="224.22" rx="1.25" ry="1.14" fill="#d2606a" opacity="0.55"/><ellipse cx="358.73" cy="227.21" rx="1.38" ry="1.10" fill="#5e0f1a" opacity="0.35"/><ellipse cx="355.15" cy="226.09" rx="0.93" ry="1.14" fill="#5e0f1a" opacity="0.35"/></g>
<g filter="url(#soft)"><path d="M385.34 222.40 L384.98 223.28 L384.44 224.07 L383.90 224.83 L383.37 225.62 L382.70 226.40 L381.77 227.06 L380.59 227.48 L379.29 227.63 L378.00 227.56 L376.77 227.38 L375.60 227.11 L374.52 226.71 L373.63 226.12 L373.02 225.38 L372.68 224.59 L372.43 223.85 L372.07 223.15 L371.54 222.40 L371.00 221.52 L370.76 220.52 L371.04 219.53 L371.84 218.71 L372.98 218.12 L374.24 217.75 L375.51 217.51 L376.76 217.38 L378.00 217.42 L379.17 217.66 L380.20 218.08 L381.09 218.57 L381.95 219.04 L382.89 219.47 L383.89 219.97 L384.77 220.64 L385.30 221.48Z" fill="url(#tr1)"/><ellipse cx="380.87" cy="221.68" rx="0.73" ry="0.62" fill="#d2606a" opacity="0.55"/><ellipse cx="380.79" cy="221.03" rx="1.43" ry="1.28" fill="#d2606a" opacity="0.55"/><ellipse cx="377.19" cy="221.52" rx="0.73" ry="0.51" fill="#5e0f1a" opacity="0.35"/><ellipse cx="380.68" cy="222.04" rx="1.53" ry="0.85" fill="#5e0f1a" opacity="0.35"/><ellipse cx="380.40" cy="220.61" rx="0.85" ry="0.73" fill="#d2606a" opacity="0.55"/><ellipse cx="378.15" cy="224.16" rx="1.02" ry="0.60" fill="#d2606a" opacity="0.55"/></g>
<g filter="url(#soft)"><path d="M409.33 224.00 L408.98 225.45 L408.51 226.80 L408.05 228.12 L407.53 229.48 L406.83 230.79 L405.84 231.86 L404.63 232.54 L403.32 232.83 L402.00 232.87 L400.70 232.74 L399.42 232.38 L398.25 231.67 L397.35 230.55 L396.81 229.14 L396.57 227.70 L396.40 226.41 L396.07 225.23 L395.55 224.00 L395.05 222.55 L394.84 220.92 L395.12 219.31 L395.85 217.91 L396.89 216.81 L398.07 215.96 L399.33 215.34 L400.66 215.02 L402.00 215.14 L403.24 215.70 L404.29 216.57 L405.18 217.49 L406.06 218.29 L407.03 219.02 L408.04 219.88 L408.89 221.04 L409.35 222.47Z" fill="url(#tr1)"/><ellipse cx="398.61" cy="221.70" rx="1.52" ry="0.90" fill="#d2606a" opacity="0.55"/><ellipse cx="399.78" cy="223.47" rx="1.04" ry="0.65" fill="#d2606a" opacity="0.55"/><ellipse cx="405.45" cy="224.10" rx="1.07" ry="1.08" fill="#d2606a" opacity="0.55"/><ellipse cx="400.68" cy="223.43" rx="1.16" ry="1.13" fill="#5e0f1a" opacity="0.35"/><ellipse cx="403.90" cy="225.77" rx="0.88" ry="1.12" fill="#d2606a" opacity="0.55"/><ellipse cx="399.58" cy="223.87" rx="1.51" ry="0.85" fill="#5e0f1a" opacity="0.35"/><ellipse cx="400.34" cy="222.33" rx="1.29" ry="0.86" fill="#5e0f1a" opacity="0.35"/><ellipse cx="399.98" cy="223.50" rx="1.30" ry="1.20" fill="#5e0f1a" opacity="0.35"/><ellipse cx="403.05" cy="223.53" rx="1.54" ry="1.17" fill="#5e0f1a" opacity="0.35"/></g>
<g filter="url(#soft)"><path d="M432.82 223.00 L432.72 224.05 L432.39 225.04 L431.91 225.94 L431.30 226.75 L430.53 227.37 L429.63 227.72 L428.68 227.80 L427.80 227.71 L427.00 227.62 L426.21 227.64 L425.35 227.71 L424.42 227.65 L423.53 227.30 L422.83 226.64 L422.38 225.77 L422.13 224.84 L421.95 223.92 L421.79 223.00 L421.71 222.03 L421.83 221.05 L422.23 220.14 L422.84 219.37 L423.57 218.76 L424.35 218.23 L425.17 217.78 L426.06 217.49 L427.00 217.48 L427.88 217.80 L428.62 218.37 L429.22 219.00 L429.80 219.54 L430.47 219.98 L431.26 220.45 L432.03 221.10 L432.59 221.98Z" fill="url(#tr1)"/><ellipse cx="427.67" cy="223.34" rx="1.27" ry="1.13" fill="#d2606a" opacity="0.55"/><ellipse cx="427.38" cy="222.70" rx="1.26" ry="0.61" fill="#5e0f1a" opacity="0.35"/><ellipse cx="429.23" cy="220.89" rx="1.55" ry="0.82" fill="#d2606a" opacity="0.55"/><ellipse cx="423.92" cy="223.26" rx="0.76" ry="0.85" fill="#5e0f1a" opacity="0.35"/><ellipse cx="425.95" cy="222.89" rx="0.92" ry="1.08" fill="#d2606a" opacity="0.55"/></g>
<g filter="url(#soft)"><path d="M456.82 222.00 L456.47 223.01 L456.07 223.96 L455.72 224.95 L455.32 226.00 L454.67 227.03 L453.65 227.84 L452.34 228.28 L450.94 228.31 L449.60 228.08 L448.39 227.73 L447.27 227.33 L446.25 226.83 L445.38 226.19 L444.71 225.42 L444.18 224.61 L443.64 223.81 L442.99 222.97 L442.28 222.00 L441.77 220.85 L441.75 219.62 L442.33 218.50 L443.41 217.67 L444.70 217.14 L445.99 216.79 L447.20 216.51 L448.39 216.28 L449.60 216.20 L450.80 216.34 L451.91 216.71 L452.92 217.21 L453.90 217.73 L454.89 218.30 L455.85 218.99 L456.58 219.88 L456.92 220.93Z" fill="url(#tr1)"/><ellipse cx="451.02" cy="222.14" rx="1.11" ry="0.55" fill="#5e0f1a" opacity="0.35"/><ellipse cx="452.99" cy="221.73" rx="0.70" ry="0.71" fill="#5e0f1a" opacity="0.35"/><ellipse cx="452.86" cy="222.69" rx="0.73" ry="0.84" fill="#d2606a" opacity="0.55"/><ellipse cx="452.60" cy="220.44" rx="0.75" ry="1.24" fill="#d2606a" opacity="0.55"/><ellipse cx="446.86" cy="220.92" rx="0.66" ry="1.05" fill="#d2606a" opacity="0.55"/><ellipse cx="449.32" cy="222.12" rx="1.23" ry="1.14" fill="#5e0f1a" opacity="0.35"/><ellipse cx="452.80" cy="223.55" rx="1.46" ry="0.86" fill="#d2606a" opacity="0.55"/></g>
<g filter="url(#soft)"><path d="M475.03 220.00 L474.91 221.15 L474.63 222.22 L474.18 223.15 L473.61 223.90 L473.02 224.51 L472.45 225.12 L471.85 225.77 L471.18 226.36 L470.40 226.69 L469.60 226.59 L468.86 226.10 L468.24 225.40 L467.68 224.69 L467.08 224.02 L466.45 223.29 L465.88 222.38 L465.50 221.25 L465.42 220.00 L465.61 218.78 L465.96 217.67 L466.41 216.67 L466.93 215.79 L467.55 215.09 L468.27 214.66 L469.02 214.53 L469.74 214.56 L470.40 214.57 L471.08 214.42 L471.86 214.19 L472.75 214.11 L473.63 214.43 L474.35 215.21 L474.80 216.33 L475.01 217.58 L475.06 218.81Z" fill="url(#tr1)"/><ellipse cx="470.36" cy="220.50" rx="0.84" ry="0.59" fill="#5e0f1a" opacity="0.35"/><ellipse cx="470.47" cy="220.17" rx="0.91" ry="0.74" fill="#d2606a" opacity="0.55"/><ellipse cx="470.44" cy="218.87" rx="0.78" ry="0.78" fill="#5e0f1a" opacity="0.35"/><ellipse cx="471.07" cy="220.11" rx="1.33" ry="0.94" fill="#d2606a" opacity="0.55"/><ellipse cx="470.88" cy="221.72" rx="0.71" ry="1.16" fill="#5e0f1a" opacity="0.35"/></g>
<g filter="url(#soft)"><path d="M382.60 275.00 L382.30 276.23 L381.89 277.37 L381.31 278.39 L380.57 279.24 L379.74 279.93 L378.92 280.59 L378.08 281.31 L377.13 282.08 L376.00 282.67 L374.75 282.83 L373.55 282.45 L372.54 281.63 L371.74 280.62 L371.03 279.62 L370.31 278.63 L369.61 277.57 L369.11 276.34 L368.97 275.00 L369.22 273.68 L369.75 272.49 L370.41 271.43 L371.12 270.47 L371.91 269.61 L372.84 268.95 L373.89 268.59 L374.97 268.51 L376.00 268.56 L377.03 268.55 L378.16 268.43 L379.45 268.40 L380.78 268.70 L381.92 269.50 L382.65 270.75 L382.91 272.22 L382.84 273.67Z" fill="url(#tp1)"/><ellipse cx="374.43" cy="276.38" rx="1.58" ry="0.77" fill="#7a1428" opacity="0.35"/><ellipse cx="377.38" cy="272.31" rx="1.00" ry="0.78" fill="#7a1428" opacity="0.35"/><ellipse cx="376.48" cy="275.19" rx="1.34" ry="0.70" fill="#f0a0aa" opacity="0.55"/><ellipse cx="376.17" cy="275.32" rx="1.47" ry="1.04" fill="#7a1428" opacity="0.35"/><ellipse cx="375.81" cy="276.04" rx="1.06" ry="0.63" fill="#f0a0aa" opacity="0.55"/><ellipse cx="375.02" cy="275.39" rx="1.57" ry="0.94" fill="#7a1428" opacity="0.35"/><ellipse cx="376.14" cy="279.23" rx="0.96" ry="0.50" fill="#f0a0aa" opacity="0.55"/><ellipse cx="374.62" cy="276.41" rx="0.80" ry="0.90" fill="#7a1428" opacity="0.35"/></g>
<g filter="url(#soft)"><path d="M417.87 270.60 L418.00 272.39 L417.53 274.09 L416.60 275.49 L415.48 276.58 L414.39 277.52 L413.35 278.45 L412.23 279.35 L410.97 279.99 L409.60 280.14 L408.26 279.77 L407.06 279.05 L405.98 278.20 L404.97 277.29 L404.03 276.26 L403.27 275.02 L402.81 273.59 L402.65 272.08 L402.63 270.60 L402.58 269.10 L402.48 267.46 L402.51 265.64 L402.92 263.81 L403.86 262.32 L405.23 261.43 L406.78 261.21 L408.26 261.41 L409.60 261.79 L410.82 262.19 L411.98 262.68 L413.04 263.38 L413.96 264.31 L414.76 265.36 L415.54 266.45 L416.39 267.61 L417.24 268.97Z" fill="url(#tp2)"/><ellipse cx="409.45" cy="270.74" rx="0.90" ry="0.69" fill="#f0a0aa" opacity="0.55"/><ellipse cx="407.53" cy="269.11" rx="1.26" ry="1.07" fill="#7a1428" opacity="0.35"/><ellipse cx="410.88" cy="269.11" rx="1.58" ry="0.62" fill="#f0a0aa" opacity="0.55"/><ellipse cx="409.12" cy="267.10" rx="1.44" ry="1.21" fill="#f0a0aa" opacity="0.55"/><ellipse cx="407.26" cy="267.70" rx="0.74" ry="0.92" fill="#7a1428" opacity="0.35"/><ellipse cx="405.79" cy="270.48" rx="1.43" ry="0.97" fill="#7a1428" opacity="0.35"/><ellipse cx="412.03" cy="268.24" rx="0.83" ry="0.52" fill="#7a1428" opacity="0.35"/><ellipse cx="410.70" cy="272.08" rx="1.44" ry="0.95" fill="#f0a0aa" opacity="0.55"/><ellipse cx="407.61" cy="268.12" rx="1.09" ry="0.50" fill="#7a1428" opacity="0.35"/><ellipse cx="410.60" cy="266.65" rx="1.14" ry="1.03" fill="#7a1428" opacity="0.35"/></g>
<g filter="url(#soft)"><path d="M440.66 271.00 L440.65 272.69 L440.36 274.34 L439.90 275.94 L439.32 277.52 L438.58 279.05 L437.56 280.31 L436.28 281.00 L434.89 280.93 L433.60 280.24 L432.52 279.29 L431.60 278.47 L430.67 277.89 L429.65 277.39 L428.59 276.71 L427.65 275.66 L426.95 274.29 L426.49 272.70 L426.21 271.00 L426.10 269.21 L426.26 267.37 L426.81 265.68 L427.77 264.36 L428.98 263.52 L430.23 263.08 L431.39 262.74 L432.47 262.32 L433.60 261.85 L434.82 261.62 L436.04 261.89 L437.11 262.74 L437.95 263.97 L438.60 265.31 L439.20 266.61 L439.81 267.93 L440.35 269.39Z" fill="url(#tp2)"/><ellipse cx="434.60" cy="271.68" rx="0.81" ry="1.09" fill="#7a1428" opacity="0.35"/><ellipse cx="435.65" cy="270.56" rx="1.08" ry="1.05" fill="#f0a0aa" opacity="0.55"/><ellipse cx="433.87" cy="267.50" rx="0.68" ry="0.62" fill="#7a1428" opacity="0.35"/><ellipse cx="433.53" cy="275.24" rx="1.17" ry="0.51" fill="#f0a0aa" opacity="0.55"/><ellipse cx="434.65" cy="271.57" rx="1.29" ry="1.04" fill="#7a1428" opacity="0.35"/><ellipse cx="433.05" cy="273.85" rx="1.07" ry="0.59" fill="#f0a0aa" opacity="0.55"/><ellipse cx="434.26" cy="270.29" rx="1.54" ry="0.51" fill="#7a1428" opacity="0.35"/><ellipse cx="430.27" cy="272.20" rx="1.05" ry="0.71" fill="#7a1428" opacity="0.35"/><ellipse cx="434.59" cy="276.22" rx="1.18" ry="0.61" fill="#f0a0aa" opacity="0.55"/><ellipse cx="429.64" cy="270.19" rx="1.42" ry="0.91" fill="#f0a0aa" opacity="0.55"/></g>
<g filter="url(#soft)"><path d="M473.26 273.00 L473.24 274.71 L472.92 276.41 L472.45 278.12 L471.86 279.92 L471.03 281.80 L469.78 283.51 L468.03 284.64 L466.00 284.89 L464.00 284.29 L462.29 283.20 L460.86 282.05 L459.56 281.08 L458.24 280.21 L456.95 279.21 L455.86 277.93 L455.10 276.40 L454.63 274.74 L454.31 273.00 L454.11 271.17 L454.15 269.24 L454.67 267.35 L455.77 265.75 L457.30 264.61 L458.99 263.89 L460.65 263.35 L462.28 262.77 L464.00 262.20 L465.86 261.93 L467.71 262.30 L469.29 263.37 L470.45 264.93 L471.22 266.64 L471.82 268.26 L472.41 269.79 L472.95 271.34Z" fill="url(#tp3)"/><ellipse cx="466.33" cy="271.16" rx="0.60" ry="0.89" fill="#d2606a" opacity="0.55"/><ellipse cx="462.28" cy="273.58" rx="0.94" ry="0.75" fill="#d2606a" opacity="0.55"/><ellipse cx="464.01" cy="272.99" rx="1.44" ry="0.60" fill="#5e0f1a" opacity="0.35"/><ellipse cx="467.82" cy="270.98" rx="0.89" ry="0.80" fill="#5e0f1a" opacity="0.35"/><ellipse cx="459.32" cy="276.93" rx="0.96" ry="0.84" fill="#5e0f1a" opacity="0.35"/><ellipse cx="463.95" cy="273.30" rx="1.43" ry="0.73" fill="#d2606a" opacity="0.55"/><ellipse cx="465.37" cy="272.38" rx="1.11" ry="0.65" fill="#d2606a" opacity="0.55"/><ellipse cx="459.99" cy="277.31" rx="1.41" ry="1.00" fill="#5e0f1a" opacity="0.35"/><ellipse cx="468.82" cy="269.92" rx="1.32" ry="0.54" fill="#5e0f1a" opacity="0.35"/><ellipse cx="463.69" cy="270.18" rx="1.24" ry="0.73" fill="#5e0f1a" opacity="0.35"/><ellipse cx="469.30" cy="274.77" rx="1.07" ry="0.77" fill="#d2606a" opacity="0.55"/><ellipse cx="462.69" cy="277.45" rx="0.86" ry="1.02" fill="#5e0f1a" opacity="0.35"/><ellipse cx="462.95" cy="276.33" rx="0.77" ry="0.63" fill="#d2606a" opacity="0.55"/><ellipse cx="465.43" cy="278.51" rx="0.82" ry="1.23" fill="#d2606a" opacity="0.55"/><ellipse cx="466.70" cy="272.93" rx="0.79" ry="0.57" fill="#d2606a" opacity="0.55"/></g>
<g filter="url(#soft)"><path d="M361.61 307.80 L361.44 309.51 L360.81 311.02 L359.93 312.22 L359.00 313.17 L358.11 313.97 L357.22 314.67 L356.28 315.18 L355.29 315.43 L354.30 315.47 L353.31 315.46 L352.24 315.48 L351.05 315.46 L349.78 315.13 L348.64 314.26 L347.86 312.85 L347.57 311.13 L347.67 309.39 L347.95 307.80 L348.23 306.34 L348.50 304.93 L348.90 303.56 L349.51 302.33 L350.33 301.37 L351.27 300.67 L352.25 300.13 L353.24 299.63 L354.30 299.24 L355.42 299.15 L356.52 299.52 L357.47 300.33 L358.26 301.38 L358.98 302.46 L359.74 303.53 L360.56 304.70 L361.26 306.13Z" fill="url(#tp2)"/><ellipse cx="354.19" cy="310.77" rx="1.35" ry="0.83" fill="#7a1428" opacity="0.35"/><ellipse cx="352.58" cy="309.21" rx="0.94" ry="0.55" fill="#f0a0aa" opacity="0.55"/><ellipse cx="353.66" cy="312.78" rx="1.10" ry="1.00" fill="#f0a0aa" opacity="0.55"/><ellipse cx="354.84" cy="306.94" rx="0.85" ry="0.82" fill="#f0a0aa" opacity="0.55"/><ellipse cx="350.85" cy="309.47" rx="1.47" ry="0.52" fill="#7a1428" opacity="0.35"/><ellipse cx="356.97" cy="308.54" rx="1.07" ry="0.97" fill="#7a1428" opacity="0.35"/><ellipse cx="355.80" cy="307.80" rx="1.43" ry="1.18" fill="#7a1428" opacity="0.35"/><ellipse cx="355.24" cy="307.57" rx="0.75" ry="0.92" fill="#f0a0aa" opacity="0.55"/></g>
<g filter="url(#soft)"><path d="M382.82 310.30 L382.93 311.27 L383.02 312.34 L382.94 313.48 L382.55 314.51 L381.87 315.29 L381.04 315.76 L380.19 316.05 L379.35 316.30 L378.50 316.54 L377.60 316.66 L376.67 316.52 L375.83 316.03 L375.13 315.28 L374.57 314.39 L374.11 313.44 L373.73 312.45 L373.51 311.39 L373.55 310.30 L373.87 309.29 L374.35 308.43 L374.84 307.68 L375.24 306.90 L375.58 305.98 L376.01 304.94 L376.65 304.00 L377.52 303.39 L378.50 303.23 L379.47 303.48 L380.36 303.97 L381.16 304.60 L381.85 305.35 L382.39 306.26 L382.70 307.29 L382.81 308.36 L382.80 309.36Z" fill="url(#tp1)"/><ellipse cx="377.12" cy="308.03" rx="1.15" ry="0.53" fill="#f0a0aa" opacity="0.55"/><ellipse cx="378.64" cy="309.45" rx="1.25" ry="0.74" fill="#7a1428" opacity="0.35"/><ellipse cx="379.02" cy="310.97" rx="1.30" ry="0.59" fill="#7a1428" opacity="0.35"/><ellipse cx="379.92" cy="311.13" rx="0.99" ry="0.68" fill="#7a1428" opacity="0.35"/><ellipse cx="378.47" cy="310.28" rx="1.06" ry="1.27" fill="#f0a0aa" opacity="0.55"/></g>
<g filter="url(#soft)"><path d="M414.57 307.60 L414.36 308.77 L414.17 309.94 L413.99 311.20 L413.65 312.54 L412.97 313.76 L411.90 314.64 L410.60 315.05 L409.27 315.10 L408.00 315.02 L406.75 314.96 L405.45 314.88 L404.12 314.59 L402.91 313.92 L401.98 312.86 L401.40 311.57 L401.08 310.22 L400.92 308.90 L400.89 307.60 L401.07 306.33 L401.55 305.16 L402.29 304.17 L403.13 303.35 L403.93 302.56 L404.68 301.62 L405.53 300.53 L406.63 299.50 L408.00 298.86 L409.48 298.85 L410.85 299.46 L411.96 300.45 L412.85 301.58 L413.58 302.72 L414.18 303.88 L414.58 305.11 L414.69 306.37Z" fill="url(#tp2)"/><ellipse cx="408.10" cy="308.72" rx="1.30" ry="0.75" fill="#7a1428" opacity="0.35"/><ellipse cx="410.16" cy="307.91" rx="1.02" ry="0.71" fill="#7a1428" opacity="0.35"/><ellipse cx="405.98" cy="303.94" rx="0.63" ry="0.77" fill="#f0a0aa" opacity="0.55"/><ellipse cx="405.38" cy="309.09" rx="1.40" ry="1.09" fill="#f0a0aa" opacity="0.55"/><ellipse cx="407.10" cy="307.57" rx="0.91" ry="1.16" fill="#7a1428" opacity="0.35"/><ellipse cx="408.12" cy="308.60" rx="0.89" ry="1.26" fill="#7a1428" opacity="0.35"/><ellipse cx="407.18" cy="307.62" rx="1.02" ry="1.03" fill="#f0a0aa" opacity="0.55"/><ellipse cx="408.61" cy="307.39" rx="0.81" ry="1.28" fill="#f0a0aa" opacity="0.55"/></g>
<g filter="url(#soft)"><path d="M442.13 309.00 L442.44 310.31 L442.19 311.62 L441.42 312.71 L440.36 313.50 L439.23 314.04 L438.14 314.44 L437.10 314.77 L436.05 314.96 L435.00 314.94 L433.99 314.73 L433.03 314.41 L432.05 314.10 L431.00 313.77 L429.90 313.28 L428.92 312.51 L428.30 311.44 L428.13 310.21 L428.32 309.00 L428.66 307.88 L428.99 306.81 L429.32 305.72 L429.80 304.64 L430.55 303.69 L431.56 303.05 L432.72 302.74 L433.89 302.69 L435.00 302.75 L436.08 302.89 L437.12 303.18 L438.07 303.68 L438.85 304.41 L439.47 305.25 L440.04 306.09 L440.70 306.92 L441.46 307.86Z" fill="url(#tp2)"/><ellipse cx="432.26" cy="311.18" rx="1.33" ry="1.30" fill="#7a1428" opacity="0.35"/><ellipse cx="436.17" cy="308.46" rx="1.54" ry="1.10" fill="#f0a0aa" opacity="0.55"/><ellipse cx="437.54" cy="309.52" rx="0.97" ry="0.77" fill="#f0a0aa" opacity="0.55"/><ellipse cx="435.01" cy="309.01" rx="0.95" ry="1.26" fill="#f0a0aa" opacity="0.55"/><ellipse cx="437.68" cy="311.64" rx="0.96" ry="1.16" fill="#f0a0aa" opacity="0.55"/><ellipse cx="435.73" cy="307.48" rx="1.07" ry="0.80" fill="#f0a0aa" opacity="0.55"/><ellipse cx="435.66" cy="308.63" rx="1.50" ry="0.52" fill="#f0a0aa" opacity="0.55"/></g>
<g filter="url(#soft)"><path d="M468.19 307.00 L468.17 308.00 L468.12 309.03 L467.87 310.07 L467.33 310.96 L466.53 311.59 L465.63 311.97 L464.74 312.21 L463.88 312.42 L463.00 312.62 L462.08 312.71 L461.15 312.56 L460.27 312.17 L459.46 311.61 L458.68 310.96 L457.90 310.21 L457.19 309.31 L456.74 308.20 L456.72 307.00 L457.16 305.88 L457.90 304.97 L458.70 304.29 L459.40 303.71 L459.99 303.08 L460.57 302.41 L461.26 301.79 L462.09 301.35 L463.00 301.14 L463.96 301.09 L464.95 301.16 L465.97 301.39 L466.95 301.87 L467.73 302.67 L468.18 303.74 L468.32 304.89 L468.26 305.99Z" fill="url(#tp1)"/><ellipse cx="463.11" cy="307.03" rx="1.52" ry="0.71" fill="#f0a0aa" opacity="0.55"/><ellipse cx="462.94" cy="303.77" rx="0.87" ry="1.27" fill="#f0a0aa" opacity="0.55"/><ellipse cx="462.36" cy="306.37" rx="0.92" ry="0.72" fill="#7a1428" opacity="0.35"/><ellipse cx="465.49" cy="307.06" rx="1.23" ry="1.25" fill="#7a1428" opacity="0.35"/><ellipse cx="463.76" cy="307.13" rx="1.56" ry="1.26" fill="#f0a0aa" opacity="0.55"/><ellipse cx="462.37" cy="307.59" rx="1.09" ry="1.24" fill="#f0a0aa" opacity="0.55"/></g>
<line x1="557.40" y1="177.00" x2="557.40" y2="282.20" stroke="#333" stroke-width="1.1" />
<line x1="553.60" y1="281.60" x2="662.80" y2="281.60" stroke="#333" stroke-width="1.1" />
<line x1="553.60" y1="281.60" x2="557.40" y2="281.60" stroke="#333" stroke-width="1" />
<text transform="translate(551.20,284.88) scale(0.9091,1)" font-size="8.36" text-anchor="end" fill="#222" font-weight="bold" >0.0</text>
<line x1="553.60" y1="255.60" x2="557.40" y2="255.60" stroke="#333" stroke-width="1" />
<text transform="translate(551.20,258.88) scale(0.9091,1)" font-size="8.36" text-anchor="end" fill="#222" font-weight="bold" >0.5</text>
<line x1="553.60" y1="229.60" x2="557.40" y2="229.60" stroke="#333" stroke-width="1" />
<text transform="translate(551.20,232.88) scale(0.9091,1)" font-size="8.36" text-anchor="end" fill="#222" font-weight="bold" >1.0</text>
<line x1="553.60" y1="203.60" x2="557.40" y2="203.60" stroke="#333" stroke-width="1" />
<text transform="translate(551.20,206.88) scale(0.9091,1)" font-size="8.36" text-anchor="end" fill="#222" font-weight="bold" >1.5</text>
<line x1="553.60" y1="177.60" x2="557.40" y2="177.60" stroke="#333" stroke-width="1" />
<text transform="translate(551.20,180.88) scale(0.9091,1)" font-size="8.36" text-anchor="end" fill="#222" font-weight="bold" >2.0</text>
<line x1="573.40" y1="281.60" x2="573.40" y2="285.80" stroke="#333" stroke-width="1" />
<line x1="598.00" y1="281.60" x2="598.00" y2="285.80" stroke="#333" stroke-width="1" />
<line x1="622.40" y1="281.60" x2="622.40" y2="285.80" stroke="#333" stroke-width="1" />
<line x1="646.60" y1="281.60" x2="646.60" y2="285.80" stroke="#333" stroke-width="1" />
<text transform="translate(534.53,231.00) rotate(-90) scale(0.9091,1)" font-size="8.91" text-anchor="middle" fill="#222" font-weight="bold" >Tumor weight (g)</text>
<path d="M573.4 196 V189.4 H646.6 V258.3" stroke="#222" stroke-width="0.9" fill="none" />
<text transform="translate(610.00,183.95) scale(0.8333,1)" font-size="10.02" text-anchor="middle" fill="#222" >P = 0.0280</text>
<line x1="573.80" y1="201.60" x2="573.80" y2="213.40" stroke="#222" stroke-width="0.9" />
<line x1="573.80" y1="255.40" x2="573.80" y2="254.60" stroke="#222" stroke-width="0.9" />
<line x1="570.20" y1="201.60" x2="577.40" y2="201.60" stroke="#222" stroke-width="0.8" />
<line x1="570.20" y1="254.60" x2="577.40" y2="254.60" stroke="#222" stroke-width="0.8" />
<rect x="566.50" y="213.40" width="14.60" height="42.00" fill="#a77fb6" stroke="#222" stroke-width="1" />
<line x1="566.50" y1="249.40" x2="581.10" y2="249.40" stroke="#222" stroke-width="1" />
<circle cx="573.80" cy="201.60" r="2.00" fill="#6b1f7e" stroke="none" stroke-width="1" />
<circle cx="573.80" cy="245.60" r="2.00" fill="#6b1f7e" stroke="none" stroke-width="1" />
<circle cx="568.00" cy="255.00" r="2.00" fill="#6b1f7e" stroke="none" stroke-width="1" />
<circle cx="579.60" cy="253.60" r="2.00" fill="#6b1f7e" stroke="none" stroke-width="1" />
<line x1="598.10" y1="248.60" x2="598.10" y2="252.60" stroke="#222" stroke-width="0.9" />
<line x1="598.10" y1="267.40" x2="598.10" y2="267.40" stroke="#222" stroke-width="0.9" />
<line x1="594.50" y1="248.60" x2="601.70" y2="248.60" stroke="#222" stroke-width="0.8" />
<line x1="594.50" y1="267.40" x2="601.70" y2="267.40" stroke="#222" stroke-width="0.8" />
<rect x="590.80" y="252.60" width="14.60" height="14.80" fill="#a9aad2" stroke="#222" stroke-width="1" />
<line x1="590.80" y1="264.60" x2="605.40" y2="264.60" stroke="#222" stroke-width="1" />
<circle cx="598.10" cy="248.60" r="2.00" fill="#5a62b0" stroke="none" stroke-width="1" />
<circle cx="598.10" cy="255.00" r="2.00" fill="#5a62b0" stroke="none" stroke-width="1" />
<circle cx="592.40" cy="267.40" r="2.00" fill="#5a62b0" stroke="none" stroke-width="1" />
<circle cx="598.10" cy="264.00" r="2.00" fill="#5a62b0" stroke="none" stroke-width="1" />
<circle cx="604.00" cy="266.40" r="2.00" fill="#5a62b0" stroke="none" stroke-width="1" />
<line x1="622.40" y1="235.40" x2="622.40" y2="242.60" stroke="#222" stroke-width="0.9" />
<line x1="622.40" y1="267.60" x2="622.40" y2="270.00" stroke="#222" stroke-width="0.9" />
<line x1="618.80" y1="235.40" x2="626.00" y2="235.40" stroke="#222" stroke-width="0.8" />
<line x1="618.80" y1="270.00" x2="626.00" y2="270.00" stroke="#222" stroke-width="0.8" />
<rect x="615.10" y="242.60" width="14.60" height="25.00" fill="#9fcfd8" stroke="#222" stroke-width="1" />
<line x1="615.10" y1="262.00" x2="629.70" y2="262.00" stroke="#222" stroke-width="1" />
<circle cx="622.40" cy="235.40" r="2.00" fill="#2a90a8" stroke="none" stroke-width="1" />
<circle cx="616.40" cy="261.00" r="2.00" fill="#2a90a8" stroke="none" stroke-width="1" />
<circle cx="628.40" cy="264.00" r="2.00" fill="#2a90a8" stroke="none" stroke-width="1" />
<circle cx="622.40" cy="270.00" r="2.00" fill="#2a90a8" stroke="none" stroke-width="1" />
<line x1="646.80" y1="264.00" x2="646.80" y2="267.20" stroke="#222" stroke-width="0.9" />
<line x1="646.80" y1="275.20" x2="646.80" y2="275.20" stroke="#222" stroke-width="0.9" />
<line x1="643.20" y1="264.00" x2="650.40" y2="264.00" stroke="#222" stroke-width="0.8" />
<line x1="643.20" y1="275.20" x2="650.40" y2="275.20" stroke="#222" stroke-width="0.8" />
<rect x="639.50" y="267.20" width="14.60" height="8.00" fill="#7fdcc4" stroke="#222" stroke-width="1" />
<line x1="639.50" y1="274.20" x2="654.10" y2="274.20" stroke="#222" stroke-width="1" />
<circle cx="646.80" cy="263.60" r="2.00" fill="#33c09a" stroke="none" stroke-width="1" />
<circle cx="640.20" cy="274.40" r="2.00" fill="#33c09a" stroke="none" stroke-width="1" />
<circle cx="653.40" cy="274.40" r="2.00" fill="#33c09a" stroke="none" stroke-width="1" />
<circle cx="653.40" cy="267.40" r="2.00" fill="#33c09a" stroke="none" stroke-width="1" />
<circle cx="640.20" cy="267.40" r="2.00" fill="#33c09a" stroke="none" stroke-width="1" />
<line x1="639.60" y1="270.20" x2="654.00" y2="270.20" stroke="#222" stroke-width="0.8" />
<text transform="translate(575.40,292.20) rotate(-45) scale(0.9091,1)" font-size="8.80" text-anchor="end" fill="#222" font-weight="bold" >Vehicle</text>
<text transform="translate(599.60,292.20) rotate(-45) scale(0.9091,1)" font-size="8.80" text-anchor="end" fill="#222" font-weight="bold" >IDH1-13i</text>
<text transform="translate(624.20,292.20) rotate(-45) scale(0.9091,1)" font-size="8.80" text-anchor="end" fill="#222" font-weight="bold" >Vehicle+IR</text>
<text transform="translate(648.60,292.20) rotate(-45) scale(0.9091,1)" font-size="8.80" text-anchor="end" fill="#222" font-weight="bold" >IDH1-13+IR</text>
</svg>
</body></html>
